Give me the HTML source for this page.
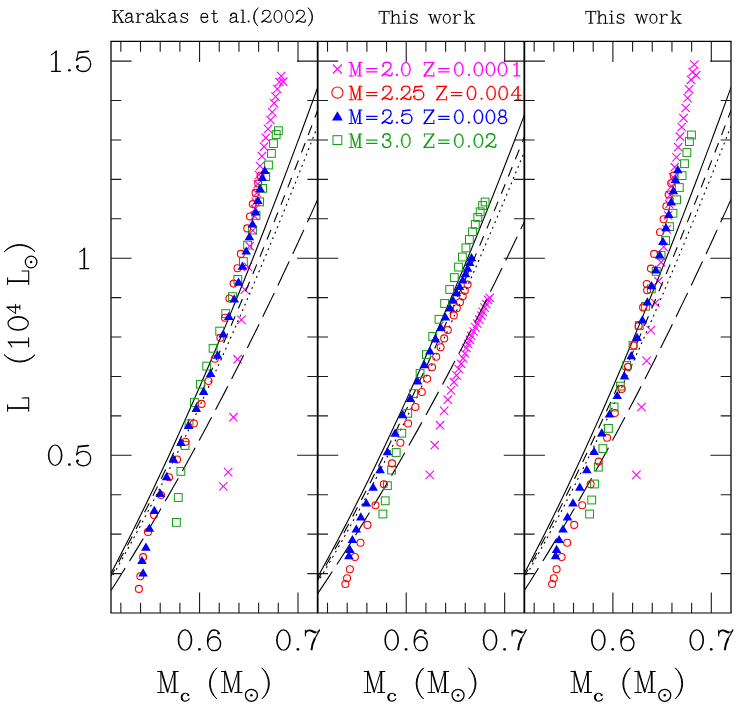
<!DOCTYPE html><html><head><meta charset="utf-8"><title>plot</title>
<style>html,body{margin:0;padding:0;background:#fff}svg{display:block}text{font-family:"Liberation Serif",serif}</style></head><body>
<svg width="746" height="714" viewBox="0 0 746 714">
<rect width="746" height="714" fill="#fff"/>
<defs>
<clipPath id="cp0"><rect x="111.00" y="41.4" width="206.67" height="571.60"/></clipPath>
<clipPath id="cp1"><rect x="317.67" y="41.4" width="206.67" height="571.60"/></clipPath>
<clipPath id="cp2"><rect x="524.33" y="41.4" width="206.67" height="571.60"/></clipPath>
</defs>
<g><path d="M276.9 71.8L285.3 80.2M276.9 80.2L285.3 71.8" stroke="#ff00ff" stroke-width="1.08" fill="none"/><path d="M279.0 77.5L287.4 85.9M279.0 85.9L287.4 77.5" stroke="#ff00ff" stroke-width="1.08" fill="none"/><path d="M275.2 77.8L283.6 86.2M275.2 86.2L283.6 77.8" stroke="#ff00ff" stroke-width="1.08" fill="none"/><path d="M273.1 84.8L281.5 93.2M273.1 93.2L281.5 84.8" stroke="#ff00ff" stroke-width="1.08" fill="none"/><path d="M271.4 92.4L279.8 100.8M271.4 100.8L279.8 92.4" stroke="#ff00ff" stroke-width="1.08" fill="none"/><path d="M269.9 99.1L278.3 107.5M269.9 107.5L278.3 99.1" stroke="#ff00ff" stroke-width="1.08" fill="none"/><path d="M268.1 107.9L276.5 116.3M268.1 116.3L276.5 107.9" stroke="#ff00ff" stroke-width="1.08" fill="none"/><path d="M266.3 115.8L274.7 124.2M266.3 124.2L274.7 115.8" stroke="#ff00ff" stroke-width="1.08" fill="none"/><path d="M263.8 124.7L272.2 133.1M263.8 133.1L272.2 124.7" stroke="#ff00ff" stroke-width="1.08" fill="none"/><path d="M261.6 133.6L270.0 142.0M261.6 142.0L270.0 133.6" stroke="#ff00ff" stroke-width="1.08" fill="none"/><path d="M259.8 142.5L268.2 150.9M259.8 150.9L268.2 142.5" stroke="#ff00ff" stroke-width="1.08" fill="none"/><path d="M257.7 152.0L266.1 160.4M257.7 160.4L266.1 152.0" stroke="#ff00ff" stroke-width="1.08" fill="none"/><path d="M255.9 161.8L264.3 170.2M255.9 170.2L264.3 161.8" stroke="#ff00ff" stroke-width="1.08" fill="none"/><path d="M254.8 170.8L263.2 179.2M254.8 179.2L263.2 170.8" stroke="#ff00ff" stroke-width="1.08" fill="none"/><path d="M253.6 179.8L262.0 188.2M253.6 188.2L262.0 179.8" stroke="#ff00ff" stroke-width="1.08" fill="none"/><path d="M252.6 188.8L261.0 197.2M252.6 197.2L261.0 188.8" stroke="#ff00ff" stroke-width="1.08" fill="none"/><path d="M251.6 197.8L260.0 206.2M251.6 206.2L260.0 197.8" stroke="#ff00ff" stroke-width="1.08" fill="none"/><path d="M250.8 204.8L259.2 213.2M250.8 213.2L259.2 204.8" stroke="#ff00ff" stroke-width="1.08" fill="none"/><path d="M250.4 211.9L258.8 220.3M250.4 220.3L258.8 211.9" stroke="#ff00ff" stroke-width="1.08" fill="none"/><path d="M248.6 226.3L257.0 234.7M248.6 234.7L257.0 226.3" stroke="#ff00ff" stroke-width="1.08" fill="none"/><path d="M245.5 242.0L253.9 250.4M245.5 250.4L253.9 242.0" stroke="#ff00ff" stroke-width="1.08" fill="none"/><path d="M243.8 262.7L252.2 271.1M243.8 271.1L252.2 262.7" stroke="#ff00ff" stroke-width="1.08" fill="none"/><path d="M240.6 285.4L249.0 293.8M240.6 293.8L249.0 285.4" stroke="#ff00ff" stroke-width="1.08" fill="none"/><path d="M237.2 315.7L245.6 324.1M237.2 324.1L245.6 315.7" stroke="#ff00ff" stroke-width="1.08" fill="none"/><path d="M233.4 355.0L241.8 363.4M233.4 363.4L241.8 355.0" stroke="#ff00ff" stroke-width="1.08" fill="none"/><path d="M229.2 413.0L237.6 421.4M229.2 421.4L237.6 413.0" stroke="#ff00ff" stroke-width="1.08" fill="none"/><path d="M224.0 467.9L232.4 476.3M224.0 476.3L232.4 467.9" stroke="#ff00ff" stroke-width="1.08" fill="none"/><path d="M219.1 482.2L227.5 490.6M219.1 490.6L227.5 482.2" stroke="#ff00ff" stroke-width="1.08" fill="none"/></g>
<g><path d="M425.6 470.7L434.0 479.1M425.6 479.1L434.0 470.7" stroke="#ff00ff" stroke-width="1.08" fill="none"/><path d="M430.5 441.0L438.9 449.4M430.5 449.4L438.9 441.0" stroke="#ff00ff" stroke-width="1.08" fill="none"/><path d="M435.9 421.0L444.3 429.4M435.9 429.4L444.3 421.0" stroke="#ff00ff" stroke-width="1.08" fill="none"/><path d="M439.9 406.7L448.3 415.1M439.9 415.1L448.3 406.7" stroke="#ff00ff" stroke-width="1.08" fill="none"/><path d="M443.6 395.5L452.0 403.9M443.6 403.9L452.0 395.5" stroke="#ff00ff" stroke-width="1.08" fill="none"/><path d="M446.8 386.2L455.2 394.6M446.8 394.6L455.2 386.2" stroke="#ff00ff" stroke-width="1.08" fill="none"/><path d="M449.7 378.0L458.1 386.4M449.7 386.4L458.1 378.0" stroke="#ff00ff" stroke-width="1.08" fill="none"/><path d="M452.3 371.1L460.7 379.5M452.3 379.5L460.7 371.1" stroke="#ff00ff" stroke-width="1.08" fill="none"/><path d="M454.6 364.8L463.0 373.2M454.6 373.2L463.0 364.8" stroke="#ff00ff" stroke-width="1.08" fill="none"/><path d="M456.9 359.6L465.3 368.0M456.9 368.0L465.3 359.6" stroke="#ff00ff" stroke-width="1.08" fill="none"/><path d="M459.0 354.1L467.4 362.5M459.0 362.5L467.4 354.1" stroke="#ff00ff" stroke-width="1.08" fill="none"/><path d="M460.7 349.3L469.1 357.7M460.7 357.7L469.1 349.3" stroke="#ff00ff" stroke-width="1.08" fill="none"/><path d="M462.4 343.8L470.8 352.2M462.4 352.2L470.8 343.8" stroke="#ff00ff" stroke-width="1.08" fill="none"/><path d="M464.0 339.8L472.4 348.2M464.0 348.2L472.4 339.8" stroke="#ff00ff" stroke-width="1.08" fill="none"/><path d="M465.7 335.6L474.1 344.0M465.7 344.0L474.1 335.6" stroke="#ff00ff" stroke-width="1.08" fill="none"/><path d="M467.1 331.7L475.5 340.1M467.1 340.1L475.5 331.7" stroke="#ff00ff" stroke-width="1.08" fill="none"/><path d="M469.4 327.3L477.8 335.7M469.4 335.7L477.8 327.3" stroke="#ff00ff" stroke-width="1.08" fill="none"/><path d="M471.2 323.2L479.6 331.6M471.2 331.6L479.6 323.2" stroke="#ff00ff" stroke-width="1.08" fill="none"/><path d="M473.0 319.4L481.4 327.8M473.0 327.8L481.4 319.4" stroke="#ff00ff" stroke-width="1.08" fill="none"/><path d="M475.1 315.5L483.5 323.9M475.1 323.9L483.5 315.5" stroke="#ff00ff" stroke-width="1.08" fill="none"/><path d="M477.1 311.3L485.5 319.7M477.1 319.7L485.5 311.3" stroke="#ff00ff" stroke-width="1.08" fill="none"/><path d="M478.5 307.6L486.9 316.0M478.5 316.0L486.9 307.6" stroke="#ff00ff" stroke-width="1.08" fill="none"/><path d="M480.4 303.4L488.8 311.8M480.4 311.8L488.8 303.4" stroke="#ff00ff" stroke-width="1.08" fill="none"/><path d="M482.1 299.8L490.5 308.2M482.1 308.2L490.5 299.8" stroke="#ff00ff" stroke-width="1.08" fill="none"/><path d="M483.8 295.6L492.2 304.0M483.8 304.0L492.2 295.6" stroke="#ff00ff" stroke-width="1.08" fill="none"/><path d="M485.5 293.6L493.9 302.0M485.5 302.0L493.9 293.6" stroke="#ff00ff" stroke-width="1.08" fill="none"/></g>
<g><path d="M690.1 60.3L698.5 68.7M690.1 68.7L698.5 60.3" stroke="#ff00ff" stroke-width="1.08" fill="none"/><path d="M692.0 71.0L700.4 79.4M692.0 79.4L700.4 71.0" stroke="#ff00ff" stroke-width="1.08" fill="none"/><path d="M688.4 67.8L696.8 76.2M688.4 76.2L696.8 67.8" stroke="#ff00ff" stroke-width="1.08" fill="none"/><path d="M686.8 75.6L695.2 84.0M686.8 84.0L695.2 75.6" stroke="#ff00ff" stroke-width="1.08" fill="none"/><path d="M684.8 85.1L693.2 93.5M684.8 93.5L693.2 85.1" stroke="#ff00ff" stroke-width="1.08" fill="none"/><path d="M683.4 93.9L691.8 102.3M683.4 102.3L691.8 93.9" stroke="#ff00ff" stroke-width="1.08" fill="none"/><path d="M681.5 103.8L689.9 112.2M681.5 112.2L689.9 103.8" stroke="#ff00ff" stroke-width="1.08" fill="none"/><path d="M679.3 114.0L687.7 122.4M679.3 122.4L687.7 114.0" stroke="#ff00ff" stroke-width="1.08" fill="none"/><path d="M677.5 122.8L685.9 131.2M677.5 131.2L685.9 122.8" stroke="#ff00ff" stroke-width="1.08" fill="none"/><path d="M675.8 132.5L684.2 140.9M675.8 140.9L684.2 132.5" stroke="#ff00ff" stroke-width="1.08" fill="none"/><path d="M674.0 143.0L682.4 151.4M674.0 151.4L682.4 143.0" stroke="#ff00ff" stroke-width="1.08" fill="none"/><path d="M672.3 153.2L680.7 161.6M672.3 161.6L680.7 153.2" stroke="#ff00ff" stroke-width="1.08" fill="none"/><path d="M670.5 163.0L678.9 171.4M670.5 171.4L678.9 163.0" stroke="#ff00ff" stroke-width="1.08" fill="none"/><path d="M668.8 172.8L677.2 181.2M668.8 181.2L677.2 172.8" stroke="#ff00ff" stroke-width="1.08" fill="none"/><path d="M667.4 181.9L675.8 190.3M667.4 190.3L675.8 181.9" stroke="#ff00ff" stroke-width="1.08" fill="none"/><path d="M665.9 191.0L674.3 199.4M665.9 199.4L674.3 191.0" stroke="#ff00ff" stroke-width="1.08" fill="none"/><path d="M665.1 200.0L673.5 208.4M665.1 208.4L673.5 200.0" stroke="#ff00ff" stroke-width="1.08" fill="none"/><path d="M663.9 211.2L672.3 219.6M663.9 219.6L672.3 211.2" stroke="#ff00ff" stroke-width="1.08" fill="none"/><path d="M662.5 225.2L670.9 233.6M662.5 233.6L670.9 225.2" stroke="#ff00ff" stroke-width="1.08" fill="none"/><path d="M659.4 242.7L667.8 251.1M659.4 251.1L667.8 242.7" stroke="#ff00ff" stroke-width="1.08" fill="none"/><path d="M656.9 258.1L665.3 266.5M656.9 266.5L665.3 258.1" stroke="#ff00ff" stroke-width="1.08" fill="none"/><path d="M654.1 277.0L662.5 285.4M654.1 285.4L662.5 277.0" stroke="#ff00ff" stroke-width="1.08" fill="none"/><path d="M651.1 298.8L659.5 307.2M651.1 307.2L659.5 298.8" stroke="#ff00ff" stroke-width="1.08" fill="none"/><path d="M646.6 325.9L655.0 334.3M646.6 334.3L655.0 325.9" stroke="#ff00ff" stroke-width="1.08" fill="none"/><path d="M642.4 356.7L650.8 365.1M642.4 365.1L650.8 356.7" stroke="#ff00ff" stroke-width="1.08" fill="none"/><path d="M637.3 402.8L645.7 411.2M637.3 411.2L645.7 402.8" stroke="#ff00ff" stroke-width="1.08" fill="none"/><path d="M632.2 470.7L640.6 479.1M632.2 479.1L640.6 470.7" stroke="#ff00ff" stroke-width="1.08" fill="none"/></g>
<g clip-path="url(#cp0)" fill="none" stroke="#000" stroke-width="1.12">
<path d="M111.00 573.29 L116.17 563.45 L121.33 553.48 L126.50 543.37 L131.67 533.14 L136.83 522.77 L142.00 512.28 L147.17 501.66 L152.33 490.91 L157.50 480.04 L162.67 469.05 L167.83 457.93 L173.00 446.69 L178.17 435.34 L183.33 423.86 L188.50 412.26 L193.67 400.55 L198.83 388.72 L204.00 376.78 L209.17 364.73 L214.33 352.56 L219.50 340.28 L224.67 327.89 L229.84 315.40 L235.00 302.79 L240.17 290.08 L245.34 277.27 L250.50 264.35 L255.67 251.32 L260.84 238.20 L266.00 224.98 L271.17 211.65 L276.34 198.23 L281.50 184.71 L286.67 171.10 L291.84 157.39 L297.00 143.59 L302.17 129.69 L307.34 115.70 L312.50 101.63 L317.67 87.46"/>
<path d="M111.00 576.24 L116.17 566.74 L121.33 557.11 L126.50 547.36 L131.67 537.49 L136.83 527.50 L142.00 517.40 L147.17 507.18 L152.33 496.84 L157.50 486.39 L162.67 475.82 L167.83 465.14 L173.00 454.35 L178.17 443.44 L183.33 432.43 L188.50 421.31 L193.67 410.07 L198.83 398.73 L204.00 387.29 L209.17 375.74 L214.33 364.08 L219.50 352.32 L224.67 340.45 L229.84 328.48 L235.00 316.42 L240.17 304.25 L245.34 291.98 L250.50 279.61 L255.67 267.15 L260.84 254.59 L266.00 241.93 L271.17 229.18 L276.34 216.33 L281.50 203.39 L286.67 190.36 L291.84 177.24 L297.00 164.03 L302.17 150.72 L307.34 137.33 L312.50 123.85 L317.67 110.29" stroke-dasharray="10.3 8.4" stroke-dashoffset="2.64"/>
<path d="M111.00 578.67 L116.17 569.67 L121.33 560.54 L126.50 551.27 L131.67 541.87 L136.83 532.34 L142.00 522.67 L147.17 512.87 L152.33 502.95 L157.50 492.90 L162.67 482.72 L167.83 472.42 L173.00 461.99 L178.17 451.45 L183.33 440.78 L188.50 430.00 L193.67 419.09 L198.83 408.08 L204.00 396.95 L209.17 385.70 L214.33 374.34 L219.50 362.88 L224.67 351.30 L229.84 339.62 L235.00 327.83 L240.17 315.94 L245.34 303.94 L250.50 291.84 L255.67 279.64 L260.84 267.35 L266.00 254.95 L271.17 242.46 L276.34 229.87 L281.50 217.20 L286.67 204.43 L291.84 191.56 L297.00 178.61 L302.17 165.58 L307.34 152.45 L312.50 139.24 L317.67 125.95" stroke-dasharray="1.9 4.1" stroke-dashoffset="1.65"/>
<path d="M111.00 590.54 L116.17 582.43 L121.33 574.24 L126.50 565.96 L131.67 557.59 L136.83 549.14 L142.00 540.60 L147.17 531.98 L152.33 523.27 L157.50 514.48 L162.67 505.60 L167.83 496.64 L173.00 487.59 L178.17 478.45 L183.33 469.23 L188.50 459.92 L193.67 450.53 L198.83 441.05 L204.00 431.49 L209.17 421.84 L214.33 412.11 L219.50 402.29 L224.67 392.38 L229.84 382.39 L235.00 372.31 L240.17 362.15 L245.34 351.90 L250.50 341.57 L255.67 331.15 L260.84 320.64 L266.00 310.05 L271.17 299.38 L276.34 288.61 L281.50 277.77 L286.67 266.83 L291.84 255.82 L297.00 244.71 L302.17 233.52 L307.34 222.25 L312.50 210.89 L317.67 199.44" stroke-dasharray="26.5 8.3" stroke-dashoffset="0.00"/>
</g>
<g clip-path="url(#cp1)" fill="none" stroke="#000" stroke-width="1.12">
<path d="M317.67 577.17 L322.84 567.81 L328.00 558.33 L333.17 548.72 L338.34 538.98 L343.50 529.13 L348.67 519.15 L353.84 509.05 L359.00 498.83 L364.17 488.49 L369.34 478.03 L374.50 467.46 L379.67 456.77 L384.84 445.97 L390.00 435.06 L395.17 424.03 L400.34 412.89 L405.50 401.64 L410.67 390.29 L415.84 378.82 L421.00 367.25 L426.17 355.58 L431.34 343.79 L436.51 331.91 L441.67 319.92 L446.84 307.84 L452.01 295.65 L457.17 283.36 L462.34 270.98 L467.51 258.50 L472.67 245.92 L477.84 233.25 L483.01 220.49 L488.17 207.63 L493.34 194.68 L498.51 181.64 L503.67 168.52 L508.84 155.30 L514.01 142.00 L519.17 128.62 L524.34 115.14"/>
<path d="M317.67 579.98 L322.84 570.94 L328.00 561.78 L333.17 552.51 L338.34 543.12 L343.50 533.62 L348.67 524.01 L353.84 514.29 L359.00 504.46 L364.17 494.52 L369.34 484.47 L374.50 474.32 L379.67 464.05 L384.84 453.68 L390.00 443.21 L395.17 432.63 L400.34 421.95 L405.50 411.17 L410.67 400.28 L415.84 389.29 L421.00 378.21 L426.17 367.02 L431.34 355.74 L436.51 344.36 L441.67 332.88 L446.84 321.31 L452.01 309.64 L457.17 297.88 L462.34 286.03 L467.51 274.08 L472.67 262.04 L477.84 249.92 L483.01 237.70 L488.17 225.39 L493.34 213.00 L498.51 200.52 L503.67 187.96 L508.84 175.31 L514.01 162.57 L519.17 149.75 L524.34 136.85" stroke-dasharray="10.3 8.4" stroke-dashoffset="2.24"/>
<path d="M317.67 582.28 L322.84 573.73 L328.00 565.04 L333.17 556.23 L338.34 547.29 L343.50 538.22 L348.67 529.03 L353.84 519.71 L359.00 510.27 L364.17 500.71 L369.34 491.03 L374.50 481.24 L379.67 471.32 L384.84 461.29 L390.00 451.15 L395.17 440.90 L400.34 430.53 L405.50 420.05 L410.67 409.46 L415.84 398.77 L421.00 387.97 L426.17 377.06 L431.34 366.06 L436.51 354.95 L441.67 343.74 L446.84 332.42 L452.01 321.02 L457.17 309.51 L462.34 297.91 L467.51 286.22 L472.67 274.43 L477.84 262.55 L483.01 250.58 L488.17 238.52 L493.34 226.38 L498.51 214.15 L503.67 201.83 L508.84 189.43 L514.01 176.95 L519.17 164.39 L524.34 151.75" stroke-dasharray="1.9 4.1" stroke-dashoffset="1.19"/>
<path d="M317.67 593.57 L322.84 585.86 L328.00 578.07 L333.17 570.19 L338.34 562.24 L343.50 554.20 L348.67 546.08 L353.84 537.88 L359.00 529.60 L364.17 521.24 L369.34 512.80 L374.50 504.27 L379.67 495.66 L384.84 486.98 L390.00 478.21 L395.17 469.36 L400.34 460.42 L405.50 451.41 L410.67 442.32 L415.84 433.14 L421.00 423.88 L426.17 414.54 L431.34 405.12 L436.51 395.62 L441.67 386.04 L446.84 376.37 L452.01 366.63 L457.17 356.80 L462.34 346.89 L467.51 336.90 L472.67 326.83 L477.84 316.68 L483.01 306.44 L488.17 296.13 L493.34 285.73 L498.51 275.25 L503.67 264.69 L508.84 254.05 L514.01 243.33 L519.17 232.52 L524.34 221.64" stroke-dasharray="26.5 8.3" stroke-dashoffset="0.00"/>
</g>
<g clip-path="url(#cp2)" fill="none" stroke="#000" stroke-width="1.12">
<path d="M524.33 573.29 L529.50 563.45 L534.66 553.48 L539.83 543.37 L545.00 533.14 L550.16 522.77 L555.33 512.28 L560.50 501.66 L565.66 490.91 L570.83 480.04 L576.00 469.05 L581.16 457.93 L586.33 446.69 L591.50 435.34 L596.66 423.86 L601.83 412.26 L607.00 400.55 L612.16 388.72 L617.33 376.78 L622.50 364.73 L627.67 352.56 L632.83 340.28 L638.00 327.89 L643.17 315.40 L648.33 302.79 L653.50 290.08 L658.67 277.27 L663.83 264.35 L669.00 251.32 L674.17 238.20 L679.33 224.98 L684.50 211.65 L689.67 198.23 L694.83 184.71 L700.00 171.10 L705.17 157.39 L710.33 143.59 L715.50 129.69 L720.67 115.70 L725.83 101.63 L731.00 87.46"/>
<path d="M524.33 576.24 L529.50 566.74 L534.66 557.11 L539.83 547.36 L545.00 537.49 L550.16 527.50 L555.33 517.40 L560.50 507.18 L565.66 496.84 L570.83 486.39 L576.00 475.82 L581.16 465.14 L586.33 454.35 L591.50 443.44 L596.66 432.43 L601.83 421.31 L607.00 410.07 L612.16 398.73 L617.33 387.29 L622.50 375.74 L627.67 364.08 L632.83 352.32 L638.00 340.45 L643.17 328.48 L648.33 316.42 L653.50 304.25 L658.67 291.98 L663.83 279.61 L669.00 267.15 L674.17 254.59 L679.33 241.93 L684.50 229.18 L689.67 216.33 L694.83 203.39 L700.00 190.36 L705.17 177.24 L710.33 164.03 L715.50 150.72 L720.67 137.33 L725.83 123.85 L731.00 110.29" stroke-dasharray="10.3 8.4" stroke-dashoffset="2.64"/>
<path d="M524.33 578.67 L529.50 569.67 L534.66 560.54 L539.83 551.27 L545.00 541.87 L550.16 532.34 L555.33 522.67 L560.50 512.87 L565.66 502.95 L570.83 492.90 L576.00 482.72 L581.16 472.42 L586.33 461.99 L591.50 451.45 L596.66 440.78 L601.83 430.00 L607.00 419.09 L612.16 408.08 L617.33 396.95 L622.50 385.70 L627.67 374.34 L632.83 362.88 L638.00 351.30 L643.17 339.62 L648.33 327.83 L653.50 315.94 L658.67 303.94 L663.83 291.84 L669.00 279.64 L674.17 267.35 L679.33 254.95 L684.50 242.46 L689.67 229.87 L694.83 217.20 L700.00 204.43 L705.17 191.56 L710.33 178.61 L715.50 165.58 L720.67 152.45 L725.83 139.24 L731.00 125.95" stroke-dasharray="1.9 4.1" stroke-dashoffset="1.65"/>
<path d="M524.33 590.54 L529.50 582.43 L534.66 574.24 L539.83 565.96 L545.00 557.59 L550.16 549.14 L555.33 540.60 L560.50 531.98 L565.66 523.27 L570.83 514.48 L576.00 505.60 L581.16 496.64 L586.33 487.59 L591.50 478.45 L596.66 469.23 L601.83 459.92 L607.00 450.53 L612.16 441.05 L617.33 431.49 L622.50 421.84 L627.67 412.11 L632.83 402.29 L638.00 392.38 L643.17 382.39 L648.33 372.31 L653.50 362.15 L658.67 351.90 L663.83 341.57 L669.00 331.15 L674.17 320.64 L679.33 310.05 L684.50 299.38 L689.67 288.61 L694.83 277.77 L700.00 266.83 L705.17 255.82 L710.33 244.71 L715.50 233.52 L720.67 222.25 L725.83 210.89 L731.00 199.44" stroke-dasharray="26.5 8.3" stroke-dashoffset="0.00"/>
</g>
<g><rect x="172.5" y="518.5" width="7.8" height="7.8" stroke="#12a012" stroke-width="1.02" fill="none"/><rect x="174.4" y="493.6" width="7.8" height="7.8" stroke="#12a012" stroke-width="1.02" fill="none"/><rect x="177.0" y="467.5" width="7.8" height="7.8" stroke="#12a012" stroke-width="1.02" fill="none"/><rect x="181.2" y="441.6" width="7.8" height="7.8" stroke="#12a012" stroke-width="1.02" fill="none"/><rect x="185.1" y="419.9" width="7.8" height="7.8" stroke="#12a012" stroke-width="1.02" fill="none"/><rect x="190.5" y="398.6" width="7.8" height="7.8" stroke="#12a012" stroke-width="1.02" fill="none"/><rect x="196.5" y="380.4" width="7.8" height="7.8" stroke="#12a012" stroke-width="1.02" fill="none"/><rect x="202.8" y="362.2" width="7.8" height="7.8" stroke="#12a012" stroke-width="1.02" fill="none"/><rect x="209.2" y="344.4" width="7.8" height="7.8" stroke="#12a012" stroke-width="1.02" fill="none"/><rect x="215.8" y="327.2" width="7.8" height="7.8" stroke="#12a012" stroke-width="1.02" fill="none"/><rect x="221.8" y="309.7" width="7.8" height="7.8" stroke="#12a012" stroke-width="1.02" fill="none"/><rect x="228.6" y="292.7" width="7.8" height="7.8" stroke="#12a012" stroke-width="1.02" fill="none"/><rect x="233.9" y="275.5" width="7.8" height="7.8" stroke="#12a012" stroke-width="1.02" fill="none"/><rect x="239.5" y="257.7" width="7.8" height="7.8" stroke="#12a012" stroke-width="1.02" fill="none"/><rect x="243.7" y="241.2" width="7.8" height="7.8" stroke="#12a012" stroke-width="1.02" fill="none"/><rect x="248.6" y="226.2" width="7.8" height="7.8" stroke="#12a012" stroke-width="1.02" fill="none"/><rect x="252.1" y="211.5" width="7.8" height="7.8" stroke="#12a012" stroke-width="1.02" fill="none"/><rect x="255.7" y="198.0" width="7.8" height="7.8" stroke="#12a012" stroke-width="1.02" fill="none"/><rect x="258.7" y="184.5" width="7.8" height="7.8" stroke="#12a012" stroke-width="1.02" fill="none"/><rect x="261.8" y="172.6" width="7.8" height="7.8" stroke="#12a012" stroke-width="1.02" fill="none"/><rect x="264.6" y="161.1" width="7.8" height="7.8" stroke="#12a012" stroke-width="1.02" fill="none"/><rect x="267.5" y="149.5" width="7.8" height="7.8" stroke="#12a012" stroke-width="1.02" fill="none"/><rect x="269.6" y="139.7" width="7.8" height="7.8" stroke="#12a012" stroke-width="1.02" fill="none"/><rect x="272.3" y="130.6" width="7.8" height="7.8" stroke="#12a012" stroke-width="1.02" fill="none"/><rect x="274.5" y="126.8" width="7.8" height="7.8" stroke="#12a012" stroke-width="1.02" fill="none"/></g>
<g><circle cx="138.9" cy="588.9" r="3.5" stroke="#ff0000" stroke-width="1.1" fill="none"/><circle cx="140.3" cy="576.3" r="3.5" stroke="#ff0000" stroke-width="1.1" fill="none"/><circle cx="143.1" cy="557.1" r="3.5" stroke="#ff0000" stroke-width="1.1" fill="none"/><circle cx="148.0" cy="531.9" r="3.5" stroke="#ff0000" stroke-width="1.1" fill="none"/><circle cx="154.0" cy="515.1" r="3.5" stroke="#ff0000" stroke-width="1.1" fill="none"/><circle cx="161.0" cy="495.0" r="3.5" stroke="#ff0000" stroke-width="1.1" fill="none"/><circle cx="169.0" cy="477.3" r="3.5" stroke="#ff0000" stroke-width="1.1" fill="none"/><circle cx="177.1" cy="459.5" r="3.5" stroke="#ff0000" stroke-width="1.1" fill="none"/><circle cx="185.5" cy="441.7" r="3.5" stroke="#ff0000" stroke-width="1.1" fill="none"/><circle cx="193.9" cy="423.5" r="3.5" stroke="#ff0000" stroke-width="1.1" fill="none"/><circle cx="201.6" cy="403.9" r="3.5" stroke="#ff0000" stroke-width="1.1" fill="none"/><circle cx="208.5" cy="381.0" r="3.5" stroke="#ff0000" stroke-width="1.1" fill="none"/><circle cx="214.8" cy="358.8" r="3.5" stroke="#ff0000" stroke-width="1.1" fill="none"/><circle cx="220.4" cy="337.8" r="3.5" stroke="#ff0000" stroke-width="1.1" fill="none"/><circle cx="225.0" cy="317.8" r="3.5" stroke="#ff0000" stroke-width="1.1" fill="none"/><circle cx="229.4" cy="298.5" r="3.5" stroke="#ff0000" stroke-width="1.1" fill="none"/><circle cx="233.6" cy="283.6" r="3.5" stroke="#ff0000" stroke-width="1.1" fill="none"/><circle cx="237.5" cy="268.2" r="3.5" stroke="#ff0000" stroke-width="1.1" fill="none"/><circle cx="240.9" cy="253.9" r="3.5" stroke="#ff0000" stroke-width="1.1" fill="none"/><circle cx="247.2" cy="228.4" r="3.5" stroke="#ff0000" stroke-width="1.1" fill="none"/><circle cx="250.0" cy="216.5" r="3.5" stroke="#ff0000" stroke-width="1.1" fill="none"/><circle cx="252.8" cy="204.1" r="3.5" stroke="#ff0000" stroke-width="1.1" fill="none"/><circle cx="255.6" cy="192.9" r="3.5" stroke="#ff0000" stroke-width="1.1" fill="none"/><circle cx="258.1" cy="183.5" r="3.5" stroke="#ff0000" stroke-width="1.1" fill="none"/><circle cx="260.5" cy="175.8" r="3.5" stroke="#ff0000" stroke-width="1.1" fill="none"/></g>
<g><path d="M143.1 568.2L147.9 576.4L138.3 576.4Z" fill="#0000ff"/><path d="M142.0 555.9L146.8 564.1L137.2 564.1Z" fill="#0000ff"/><path d="M145.9 542.5L150.7 550.7L141.1 550.7Z" fill="#0000ff"/><path d="M149.4 523.5L154.2 531.7L144.6 531.7Z" fill="#0000ff"/><path d="M154.3 505.7L159.1 513.9L149.5 513.9Z" fill="#0000ff"/><path d="M160.3 488.8L165.1 497.0L155.5 497.0Z" fill="#0000ff"/><path d="M166.6 472.0L171.4 480.2L161.8 480.2Z" fill="#0000ff"/><path d="M173.6 454.5L178.4 462.7L168.8 462.7Z" fill="#0000ff"/><path d="M180.9 437.7L185.7 445.9L176.1 445.9Z" fill="#0000ff"/><path d="M188.6 420.9L193.4 429.1L183.8 429.1Z" fill="#0000ff"/><path d="M196.3 403.8L201.1 412.0L191.5 412.0Z" fill="#0000ff"/><path d="M203.6 386.7L208.4 394.9L198.8 394.9Z" fill="#0000ff"/><path d="M210.6 368.8L215.4 377.0L205.8 377.0Z" fill="#0000ff"/><path d="M217.6 350.6L222.4 358.8L212.8 358.8Z" fill="#0000ff"/><path d="M223.2 329.3L228.0 337.5L218.4 337.5Z" fill="#0000ff"/><path d="M228.8 311.8L233.6 320.0L224.0 320.0Z" fill="#0000ff"/><path d="M234.2 294.2L239.0 302.4L229.4 302.4Z" fill="#0000ff"/><path d="M238.5 277.6L243.3 285.8L233.7 285.8Z" fill="#0000ff"/><path d="M242.4 261.5L247.2 269.7L237.6 269.7Z" fill="#0000ff"/><path d="M246.2 246.4L251.0 254.6L241.4 254.6Z" fill="#0000ff"/><path d="M249.4 232.1L254.2 240.3L244.6 240.3Z" fill="#0000ff"/><path d="M252.5 219.2L257.3 227.4L247.7 227.4Z" fill="#0000ff"/><path d="M255.6 207.3L260.4 215.5L250.8 215.5Z" fill="#0000ff"/><path d="M257.9 195.9L262.7 204.1L253.1 204.1Z" fill="#0000ff"/><path d="M260.1 184.1L264.9 192.3L255.3 192.3Z" fill="#0000ff"/><path d="M262.3 172.9L267.1 181.1L257.5 181.1Z" fill="#0000ff"/><path d="M264.7 165.9L269.5 174.1L259.9 174.1Z" fill="#0000ff"/></g>
<g><rect x="379.0" y="510.1" width="7.8" height="7.8" stroke="#12a012" stroke-width="1.02" fill="none"/><rect x="381.3" y="496.9" width="7.8" height="7.8" stroke="#12a012" stroke-width="1.02" fill="none"/><rect x="383.5" y="481.8" width="7.8" height="7.8" stroke="#12a012" stroke-width="1.02" fill="none"/><rect x="387.7" y="466.1" width="7.8" height="7.8" stroke="#12a012" stroke-width="1.02" fill="none"/><rect x="392.3" y="448.6" width="7.8" height="7.8" stroke="#12a012" stroke-width="1.02" fill="none"/><rect x="397.9" y="429.3" width="7.8" height="7.8" stroke="#12a012" stroke-width="1.02" fill="none"/><rect x="403.8" y="409.4" width="7.8" height="7.8" stroke="#12a012" stroke-width="1.02" fill="none"/><rect x="409.6" y="389.7" width="7.8" height="7.8" stroke="#12a012" stroke-width="1.02" fill="none"/><rect x="416.2" y="369.6" width="7.8" height="7.8" stroke="#12a012" stroke-width="1.02" fill="none"/><rect x="422.5" y="350.7" width="7.8" height="7.8" stroke="#12a012" stroke-width="1.02" fill="none"/><rect x="428.8" y="332.5" width="7.8" height="7.8" stroke="#12a012" stroke-width="1.02" fill="none"/><rect x="435.1" y="315.4" width="7.8" height="7.8" stroke="#12a012" stroke-width="1.02" fill="none"/><rect x="440.7" y="299.6" width="7.8" height="7.8" stroke="#12a012" stroke-width="1.02" fill="none"/><rect x="445.8" y="285.6" width="7.8" height="7.8" stroke="#12a012" stroke-width="1.02" fill="none"/><rect x="450.4" y="273.7" width="7.8" height="7.8" stroke="#12a012" stroke-width="1.02" fill="none"/><rect x="454.6" y="263.2" width="7.8" height="7.8" stroke="#12a012" stroke-width="1.02" fill="none"/><rect x="458.5" y="253.1" width="7.8" height="7.8" stroke="#12a012" stroke-width="1.02" fill="none"/><rect x="462.0" y="244.0" width="7.8" height="7.8" stroke="#12a012" stroke-width="1.02" fill="none"/><rect x="465.5" y="235.6" width="7.8" height="7.8" stroke="#12a012" stroke-width="1.02" fill="none"/><rect x="468.6" y="227.8" width="7.8" height="7.8" stroke="#12a012" stroke-width="1.02" fill="none"/><rect x="471.4" y="220.5" width="7.8" height="7.8" stroke="#12a012" stroke-width="1.02" fill="none"/><rect x="473.9" y="213.5" width="7.8" height="7.8" stroke="#12a012" stroke-width="1.02" fill="none"/><rect x="476.3" y="207.9" width="7.8" height="7.8" stroke="#12a012" stroke-width="1.02" fill="none"/><rect x="478.7" y="201.6" width="7.8" height="7.8" stroke="#12a012" stroke-width="1.02" fill="none"/><rect x="481.2" y="198.1" width="7.8" height="7.8" stroke="#12a012" stroke-width="1.02" fill="none"/></g>
<g><circle cx="345.4" cy="584.0" r="3.5" stroke="#ff0000" stroke-width="1.1" fill="none"/><circle cx="347.1" cy="578.2" r="3.5" stroke="#ff0000" stroke-width="1.1" fill="none"/><circle cx="349.9" cy="569.3" r="3.5" stroke="#ff0000" stroke-width="1.1" fill="none"/><circle cx="354.9" cy="557.0" r="3.5" stroke="#ff0000" stroke-width="1.1" fill="none"/><circle cx="360.5" cy="542.7" r="3.5" stroke="#ff0000" stroke-width="1.1" fill="none"/><circle cx="367.5" cy="524.9" r="3.5" stroke="#ff0000" stroke-width="1.1" fill="none"/><circle cx="375.5" cy="505.3" r="3.5" stroke="#ff0000" stroke-width="1.1" fill="none"/><circle cx="383.9" cy="484.3" r="3.5" stroke="#ff0000" stroke-width="1.1" fill="none"/><circle cx="392.0" cy="463.4" r="3.5" stroke="#ff0000" stroke-width="1.1" fill="none"/><circle cx="400.4" cy="442.7" r="3.5" stroke="#ff0000" stroke-width="1.1" fill="none"/><circle cx="408.1" cy="423.5" r="3.5" stroke="#ff0000" stroke-width="1.1" fill="none"/><circle cx="415.4" cy="407.0" r="3.5" stroke="#ff0000" stroke-width="1.1" fill="none"/><circle cx="421.8" cy="392.0" r="3.5" stroke="#ff0000" stroke-width="1.1" fill="none"/><circle cx="427.1" cy="378.7" r="3.5" stroke="#ff0000" stroke-width="1.1" fill="none"/><circle cx="432.0" cy="367.2" r="3.5" stroke="#ff0000" stroke-width="1.1" fill="none"/><circle cx="436.2" cy="356.7" r="3.5" stroke="#ff0000" stroke-width="1.1" fill="none"/><circle cx="440.6" cy="347.2" r="3.5" stroke="#ff0000" stroke-width="1.1" fill="none"/><circle cx="444.2" cy="338.4" r="3.5" stroke="#ff0000" stroke-width="1.1" fill="none"/><circle cx="447.8" cy="330.0" r="3.5" stroke="#ff0000" stroke-width="1.1" fill="none"/><circle cx="453.8" cy="315.4" r="3.5" stroke="#ff0000" stroke-width="1.1" fill="none"/><circle cx="456.8" cy="308.2" r="3.5" stroke="#ff0000" stroke-width="1.1" fill="none"/><circle cx="460.0" cy="302.3" r="3.5" stroke="#ff0000" stroke-width="1.1" fill="none"/><circle cx="462.7" cy="296.3" r="3.5" stroke="#ff0000" stroke-width="1.1" fill="none"/><circle cx="464.8" cy="290.6" r="3.5" stroke="#ff0000" stroke-width="1.1" fill="none"/><circle cx="467.6" cy="284.6" r="3.5" stroke="#ff0000" stroke-width="1.1" fill="none"/></g>
<g><path d="M348.9 551.0L353.7 559.2L344.1 559.2Z" fill="#0000ff"/><path d="M349.9 544.7L354.7 552.9L345.1 552.9Z" fill="#0000ff"/><path d="M352.4 534.9L357.2 543.1L347.6 543.1Z" fill="#0000ff"/><path d="M356.3 524.4L361.1 532.6L351.5 532.6Z" fill="#0000ff"/><path d="M360.8 512.2L365.6 520.4L356.0 520.4Z" fill="#0000ff"/><path d="M366.3 498.2L371.1 506.4L361.5 506.4Z" fill="#0000ff"/><path d="M373.1 482.5L377.9 490.7L368.3 490.7Z" fill="#0000ff"/><path d="M380.1 465.0L384.9 473.2L375.3 473.2Z" fill="#0000ff"/><path d="M387.5 447.1L392.3 455.3L382.7 455.3Z" fill="#0000ff"/><path d="M395.1 428.6L399.9 436.8L390.3 436.8Z" fill="#0000ff"/><path d="M402.5 410.1L407.3 418.3L397.7 418.3Z" fill="#0000ff"/><path d="M410.4 393.7L415.2 401.9L405.6 401.9Z" fill="#0000ff"/><path d="M417.6 376.2L422.4 384.4L412.8 384.4Z" fill="#0000ff"/><path d="M424.3 360.1L429.1 368.3L419.5 368.3Z" fill="#0000ff"/><path d="M429.9 346.4L434.7 354.6L425.1 354.6Z" fill="#0000ff"/><path d="M435.5 334.2L440.3 342.4L430.7 342.4Z" fill="#0000ff"/><path d="M440.8 322.9L445.6 331.1L436.0 331.1Z" fill="#0000ff"/><path d="M445.4 312.4L450.2 320.6L440.6 320.6Z" fill="#0000ff"/><path d="M449.9 303.2L454.7 311.4L445.1 311.4Z" fill="#0000ff"/><path d="M453.0 295.6L457.8 303.8L448.2 303.8Z" fill="#0000ff"/><path d="M456.4 288.1L461.2 296.3L451.6 296.3Z" fill="#0000ff"/><path d="M459.5 281.7L464.3 289.9L454.7 289.9Z" fill="#0000ff"/><path d="M462.7 275.4L467.5 283.6L457.9 283.6Z" fill="#0000ff"/><path d="M465.5 269.1L470.3 277.3L460.7 277.3Z" fill="#0000ff"/><path d="M467.6 263.5L472.4 271.7L462.8 271.7Z" fill="#0000ff"/><path d="M469.7 257.9L474.5 266.1L464.9 266.1Z" fill="#0000ff"/><path d="M471.5 253.0L476.3 261.2L466.7 261.2Z" fill="#0000ff"/></g>
<g><rect x="585.7" y="510.1" width="7.8" height="7.8" stroke="#12a012" stroke-width="1.02" fill="none"/><rect x="587.8" y="496.1" width="7.8" height="7.8" stroke="#12a012" stroke-width="1.02" fill="none"/><rect x="590.6" y="480.1" width="7.8" height="7.8" stroke="#12a012" stroke-width="1.02" fill="none"/><rect x="594.4" y="463.3" width="7.8" height="7.8" stroke="#12a012" stroke-width="1.02" fill="none"/><rect x="599.0" y="444.7" width="7.8" height="7.8" stroke="#12a012" stroke-width="1.02" fill="none"/><rect x="604.5" y="424.5" width="7.8" height="7.8" stroke="#12a012" stroke-width="1.02" fill="none"/><rect x="610.2" y="403.1" width="7.8" height="7.8" stroke="#12a012" stroke-width="1.02" fill="none"/><rect x="616.5" y="382.2" width="7.8" height="7.8" stroke="#12a012" stroke-width="1.02" fill="none"/><rect x="622.8" y="361.6" width="7.8" height="7.8" stroke="#12a012" stroke-width="1.02" fill="none"/><rect x="629.1" y="341.6" width="7.8" height="7.8" stroke="#12a012" stroke-width="1.02" fill="none"/><rect x="635.4" y="321.6" width="7.8" height="7.8" stroke="#12a012" stroke-width="1.02" fill="none"/><rect x="641.6" y="302.4" width="7.8" height="7.8" stroke="#12a012" stroke-width="1.02" fill="none"/><rect x="647.4" y="285.0" width="7.8" height="7.8" stroke="#12a012" stroke-width="1.02" fill="none"/><rect x="652.3" y="267.5" width="7.8" height="7.8" stroke="#12a012" stroke-width="1.02" fill="none"/><rect x="657.2" y="251.4" width="7.8" height="7.8" stroke="#12a012" stroke-width="1.02" fill="none"/><rect x="661.7" y="236.7" width="7.8" height="7.8" stroke="#12a012" stroke-width="1.02" fill="none"/><rect x="665.6" y="222.7" width="7.8" height="7.8" stroke="#12a012" stroke-width="1.02" fill="none"/><rect x="669.1" y="209.4" width="7.8" height="7.8" stroke="#12a012" stroke-width="1.02" fill="none"/><rect x="672.7" y="195.9" width="7.8" height="7.8" stroke="#12a012" stroke-width="1.02" fill="none"/><rect x="675.4" y="183.6" width="7.8" height="7.8" stroke="#12a012" stroke-width="1.02" fill="none"/><rect x="678.2" y="171.7" width="7.8" height="7.8" stroke="#12a012" stroke-width="1.02" fill="none"/><rect x="680.6" y="159.8" width="7.8" height="7.8" stroke="#12a012" stroke-width="1.02" fill="none"/><rect x="683.0" y="148.6" width="7.8" height="7.8" stroke="#12a012" stroke-width="1.02" fill="none"/><rect x="685.5" y="137.7" width="7.8" height="7.8" stroke="#12a012" stroke-width="1.02" fill="none"/><rect x="687.6" y="131.1" width="7.8" height="7.8" stroke="#12a012" stroke-width="1.02" fill="none"/></g>
<g><circle cx="552.1" cy="584.0" r="3.5" stroke="#ff0000" stroke-width="1.1" fill="none"/><circle cx="553.8" cy="578.2" r="3.5" stroke="#ff0000" stroke-width="1.1" fill="none"/><circle cx="556.6" cy="569.3" r="3.5" stroke="#ff0000" stroke-width="1.1" fill="none"/><circle cx="561.6" cy="557.0" r="3.5" stroke="#ff0000" stroke-width="1.1" fill="none"/><circle cx="567.2" cy="542.7" r="3.5" stroke="#ff0000" stroke-width="1.1" fill="none"/><circle cx="574.2" cy="524.9" r="3.5" stroke="#ff0000" stroke-width="1.1" fill="none"/><circle cx="582.2" cy="505.3" r="3.5" stroke="#ff0000" stroke-width="1.1" fill="none"/><circle cx="590.6" cy="484.3" r="3.5" stroke="#ff0000" stroke-width="1.1" fill="none"/><circle cx="598.7" cy="461.6" r="3.5" stroke="#ff0000" stroke-width="1.1" fill="none"/><circle cx="607.1" cy="437.8" r="3.5" stroke="#ff0000" stroke-width="1.1" fill="none"/><circle cx="614.8" cy="413.0" r="3.5" stroke="#ff0000" stroke-width="1.1" fill="none"/><circle cx="621.7" cy="388.9" r="3.5" stroke="#ff0000" stroke-width="1.1" fill="none"/><circle cx="628.0" cy="366.9" r="3.5" stroke="#ff0000" stroke-width="1.1" fill="none"/><circle cx="633.7" cy="345.5" r="3.5" stroke="#ff0000" stroke-width="1.1" fill="none"/><circle cx="638.6" cy="325.9" r="3.5" stroke="#ff0000" stroke-width="1.1" fill="none"/><circle cx="643.1" cy="307.4" r="3.5" stroke="#ff0000" stroke-width="1.1" fill="none"/><circle cx="647.1" cy="290.3" r="3.5" stroke="#ff0000" stroke-width="1.1" fill="none"/><circle cx="646.8" cy="284.0" r="3.5" stroke="#ff0000" stroke-width="1.1" fill="none"/><circle cx="650.9" cy="268.6" r="3.5" stroke="#ff0000" stroke-width="1.1" fill="none"/><circle cx="654.1" cy="253.9" r="3.5" stroke="#ff0000" stroke-width="1.1" fill="none"/><circle cx="660.0" cy="232.2" r="3.5" stroke="#ff0000" stroke-width="1.1" fill="none"/><circle cx="663.6" cy="219.3" r="3.5" stroke="#ff0000" stroke-width="1.1" fill="none"/><circle cx="666.4" cy="206.3" r="3.5" stroke="#ff0000" stroke-width="1.1" fill="none"/><circle cx="668.7" cy="194.5" r="3.5" stroke="#ff0000" stroke-width="1.1" fill="none"/><circle cx="671.2" cy="183.3" r="3.5" stroke="#ff0000" stroke-width="1.1" fill="none"/><circle cx="673.7" cy="175.6" r="3.5" stroke="#ff0000" stroke-width="1.1" fill="none"/></g>
<g><path d="M555.6 551.0L560.4 559.2L550.8 559.2Z" fill="#0000ff"/><path d="M556.6 544.7L561.4 552.9L551.8 552.9Z" fill="#0000ff"/><path d="M559.1 534.9L563.9 543.1L554.3 543.1Z" fill="#0000ff"/><path d="M563.0 524.4L567.8 532.6L558.2 532.6Z" fill="#0000ff"/><path d="M567.5 512.2L572.3 520.4L562.7 520.4Z" fill="#0000ff"/><path d="M573.0 498.2L577.8 506.4L568.2 506.4Z" fill="#0000ff"/><path d="M579.8 482.5L584.6 490.7L575.0 490.7Z" fill="#0000ff"/><path d="M586.8 465.0L591.6 473.2L582.0 473.2Z" fill="#0000ff"/><path d="M594.1 446.8L598.9 455.0L589.3 455.0Z" fill="#0000ff"/><path d="M601.8 428.2L606.6 436.4L597.0 436.4Z" fill="#0000ff"/><path d="M609.5 409.4L614.3 417.6L604.7 417.6Z" fill="#0000ff"/><path d="M617.2 390.9L622.0 399.1L612.4 399.1Z" fill="#0000ff"/><path d="M624.5 371.3L629.3 379.5L619.7 379.5Z" fill="#0000ff"/><path d="M631.2 351.0L636.0 359.2L626.4 359.2Z" fill="#0000ff"/><path d="M637.1 332.8L641.9 341.0L632.3 341.0Z" fill="#0000ff"/><path d="M642.4 315.3L647.2 323.5L637.6 323.5Z" fill="#0000ff"/><path d="M647.4 297.2L652.2 305.4L642.6 305.4Z" fill="#0000ff"/><path d="M651.6 281.1L656.4 289.3L646.8 289.3Z" fill="#0000ff"/><path d="M655.9 265.3L660.7 273.5L651.1 273.5Z" fill="#0000ff"/><path d="M659.7 250.3L664.5 258.5L654.9 258.5Z" fill="#0000ff"/><path d="M662.9 236.7L667.7 244.9L658.1 244.9Z" fill="#0000ff"/><path d="M666.0 223.0L670.8 231.2L661.2 231.2Z" fill="#0000ff"/><path d="M668.8 209.7L673.6 217.9L664.0 217.9Z" fill="#0000ff"/><path d="M671.2 197.2L676.0 205.4L666.4 205.4Z" fill="#0000ff"/><path d="M673.3 186.0L678.1 194.2L668.5 194.2Z" fill="#0000ff"/><path d="M675.4 174.8L680.2 183.0L670.6 183.0Z" fill="#0000ff"/><path d="M677.8 165.0L682.6 173.2L673.0 173.2Z" fill="#0000ff"/></g>
<g stroke="#000" fill="none" stroke-linecap="butt">
<path d="M110.4 41.4H731.6M110.4 613.0H731.6" stroke-width="1.2"/>
<path d="M111.00 41.4V613.0M731.00 41.4V613.0" stroke-width="1.35" stroke="#111"/>
<path d="M317.67 41.4V613.0M524.33 41.4V613.0" stroke-width="1.8"/>
</g>
<g stroke="#1a1a1a" stroke-width="1.1" fill="none">
<path d="M120.84 613.0v-10.3M120.84 41.4v10.3"/>
<path d="M140.52 613.0v-10.3M140.52 41.4v10.3"/>
<path d="M160.21 613.0v-10.3M160.21 41.4v10.3"/>
<path d="M179.89 613.0v-10.3M179.89 41.4v10.3"/>
<path d="M199.57 613.0v-20.6M199.57 41.4v20.6"/>
<path d="M219.26 613.0v-10.3M219.26 41.4v10.3"/>
<path d="M238.94 613.0v-10.3M238.94 41.4v10.3"/>
<path d="M258.62 613.0v-10.3M258.62 41.4v10.3"/>
<path d="M278.30 613.0v-10.3M278.30 41.4v10.3"/>
<path d="M297.99 613.0v-20.6M297.99 41.4v20.6"/>
<path d="M327.51 613.0v-10.3M327.51 41.4v10.3"/>
<path d="M347.19 613.0v-10.3M347.19 41.4v10.3"/>
<path d="M366.88 613.0v-10.3M366.88 41.4v10.3"/>
<path d="M386.56 613.0v-10.3M386.56 41.4v10.3"/>
<path d="M406.24 613.0v-20.6M406.24 41.4v20.6"/>
<path d="M425.93 613.0v-10.3M425.93 41.4v10.3"/>
<path d="M445.61 613.0v-10.3M445.61 41.4v10.3"/>
<path d="M465.29 613.0v-10.3M465.29 41.4v10.3"/>
<path d="M484.97 613.0v-10.3M484.97 41.4v10.3"/>
<path d="M504.66 613.0v-20.6M504.66 41.4v20.6"/>
<path d="M534.17 613.0v-10.3M534.17 41.4v10.3"/>
<path d="M553.85 613.0v-10.3M553.85 41.4v10.3"/>
<path d="M573.54 613.0v-10.3M573.54 41.4v10.3"/>
<path d="M593.22 613.0v-10.3M593.22 41.4v10.3"/>
<path d="M612.90 613.0v-20.6M612.90 41.4v20.6"/>
<path d="M632.59 613.0v-10.3M632.59 41.4v10.3"/>
<path d="M652.27 613.0v-10.3M652.27 41.4v10.3"/>
<path d="M671.95 613.0v-10.3M671.95 41.4v10.3"/>
<path d="M691.63 613.0v-10.3M691.63 41.4v10.3"/>
<path d="M711.32 613.0v-20.6M711.32 41.4v20.6"/>
<path d="M111.00 573.58h10.3M317.67 573.58h-10.3"/>
<path d="M111.00 534.16h10.3M317.67 534.16h-10.3"/>
<path d="M111.00 494.74h10.3M317.67 494.74h-10.3"/>
<path d="M111.00 455.32h20.6M317.67 455.32h-20.6"/>
<path d="M111.00 415.90h10.3M317.67 415.90h-10.3"/>
<path d="M111.00 376.48h10.3M317.67 376.48h-10.3"/>
<path d="M111.00 337.06h10.3M317.67 337.06h-10.3"/>
<path d="M111.00 297.63h10.3M317.67 297.63h-10.3"/>
<path d="M111.00 258.21h20.6M317.67 258.21h-20.6"/>
<path d="M111.00 218.79h10.3M317.67 218.79h-10.3"/>
<path d="M111.00 179.37h10.3M317.67 179.37h-10.3"/>
<path d="M111.00 139.95h10.3M317.67 139.95h-10.3"/>
<path d="M111.00 100.53h10.3M317.67 100.53h-10.3"/>
<path d="M111.00 61.11h20.6M317.67 61.11h-20.6"/>
<path d="M317.67 573.58h10.3M524.34 573.58h-10.3"/>
<path d="M317.67 534.16h10.3M524.34 534.16h-10.3"/>
<path d="M317.67 494.74h10.3M524.34 494.74h-10.3"/>
<path d="M317.67 455.32h20.6M524.34 455.32h-20.6"/>
<path d="M317.67 415.90h10.3M524.34 415.90h-10.3"/>
<path d="M317.67 376.48h10.3M524.34 376.48h-10.3"/>
<path d="M317.67 337.06h10.3M524.34 337.06h-10.3"/>
<path d="M317.67 297.63h10.3M524.34 297.63h-10.3"/>
<path d="M317.67 258.21h20.6M524.34 258.21h-20.6"/>
<path d="M317.67 218.79h10.3M524.34 218.79h-10.3"/>
<path d="M317.67 179.37h10.3M524.34 179.37h-10.3"/>
<path d="M317.67 139.95h10.3M524.34 139.95h-10.3"/>
<path d="M317.67 100.53h10.3M524.34 100.53h-10.3"/>
<path d="M317.67 61.11h20.6M524.34 61.11h-20.6"/>
<path d="M524.33 573.58h10.3M731.00 573.58h-10.3"/>
<path d="M524.33 534.16h10.3M731.00 534.16h-10.3"/>
<path d="M524.33 494.74h10.3M731.00 494.74h-10.3"/>
<path d="M524.33 455.32h20.6M731.00 455.32h-20.6"/>
<path d="M524.33 415.90h10.3M731.00 415.90h-10.3"/>
<path d="M524.33 376.48h10.3M731.00 376.48h-10.3"/>
<path d="M524.33 337.06h10.3M731.00 337.06h-10.3"/>
<path d="M524.33 297.63h10.3M731.00 297.63h-10.3"/>
<path d="M524.33 258.21h20.6M731.00 258.21h-20.6"/>
<path d="M524.33 218.79h10.3M731.00 218.79h-10.3"/>
<path d="M524.33 179.37h10.3M731.00 179.37h-10.3"/>
<path d="M524.33 139.95h10.3M731.00 139.95h-10.3"/>
<path d="M524.33 100.53h10.3M731.00 100.53h-10.3"/>
<path d="M524.33 61.11h20.6M731.00 61.11h-20.6"/>
</g>
<g fill="none" stroke="#000" color="#000" stroke-linecap="round" stroke-linejoin="round"><g transform="translate(112.30 22.40)"><path d="M2.5 -11.9V0" stroke-width="1.40" stroke-linecap="butt"/><path d="M0 -11.9H5.1M0 0H5.1M7.8 -11.9H11.4M7.8 0H11.6" stroke-width="0.84" /><path d="M2.5 -4.9L10.2 -11.9" stroke-width="0.84" /><path d="M5.6 -7.8L10.0 0" stroke-width="1.40" /></g><g transform="translate(124.90 22.40)"><path d="M1.2 -6.9C1.6 -8.5 3 -9.2 4.3 -9.2C6 -9.2 6.9 -8.2 6.9 -6.7V-1.6C6.9 -0.5 7.6 0.1 8.9 -0.5" stroke-width="1.16" /><path d="M6.9 -5.4C4.5 -5.2 2.6 -4.7 1.3 -3.8C0.2 -3 0.2 -1.2 1.2 -0.4C2.4 0.5 5 0.1 6.9 -2.0" stroke-width="1.07" /><circle cx="1.5" cy="-6.9" r="0.9" fill="currentColor" stroke="none"/></g><g transform="translate(136.10 22.40)"><path d="M1.9 -9V0" stroke-width="1.30" stroke-linecap="butt"/><path d="M0 -9H1.9M0 0H4.1" stroke-width="0.84" /><path d="M1.9 -5.8C2.8 -7.8 4.6 -9.1 6.6 -9.1" stroke-width="0.98" /><circle cx="7.3" cy="-8.2" r="0.95" fill="currentColor" stroke="none"/></g><g transform="translate(145.90 22.40)"><path d="M1.2 -6.9C1.6 -8.5 3 -9.2 4.3 -9.2C6 -9.2 6.9 -8.2 6.9 -6.7V-1.6C6.9 -0.5 7.6 0.1 8.9 -0.5" stroke-width="1.16" /><path d="M6.9 -5.4C4.5 -5.2 2.6 -4.7 1.3 -3.8C0.2 -3 0.2 -1.2 1.2 -0.4C2.4 0.5 5 0.1 6.9 -2.0" stroke-width="1.07" /><circle cx="1.5" cy="-6.9" r="0.9" fill="currentColor" stroke="none"/></g><g transform="translate(155.30 22.40)"><path d="M2.1 -12.3V0" stroke-width="1.30" stroke-linecap="butt"/><path d="M0 -12.3H2.1M0 0H4.7M6.3 -8.9H10.2M6.6 0H10.6" stroke-width="0.84" /><path d="M2.1 -3.6L8.7 -8.9" stroke-width="0.84" /><path d="M4.9 -5.9L8.8 0" stroke-width="1.30" /></g><g transform="translate(168.10 22.40)"><path d="M1.2 -6.9C1.6 -8.5 3 -9.2 4.3 -9.2C6 -9.2 6.9 -8.2 6.9 -6.7V-1.6C6.9 -0.5 7.6 0.1 8.9 -0.5" stroke-width="1.16" /><path d="M6.9 -5.4C4.5 -5.2 2.6 -4.7 1.3 -3.8C0.2 -3 0.2 -1.2 1.2 -0.4C2.4 0.5 5 0.1 6.9 -2.0" stroke-width="1.07" /><circle cx="1.5" cy="-6.9" r="0.9" fill="currentColor" stroke="none"/></g><g transform="translate(180.20 22.40)"><path d="M7.3 -6.7V-9.2M0.7 -2.7V0.1" stroke-width="0.74" /><path d="M7.2 -7.5C6.6 -8.7 5.4 -9.2 4.1 -9.2C2.3 -9.2 0.9 -8.3 0.9 -6.9C0.9 -5.5 2.2 -5.0 4.1 -4.6C6.2 -4.1 7.5 -3.6 7.5 -2.3C7.5 -0.8 6.0 0.1 4.1 0.1C2.6 0.1 1.4 -0.5 0.8 -1.8" stroke-width="1.07" /></g><g transform="translate(200.30 22.40)"><path d="M0.8 -5.0H7.4C7.4 -7.6 6.2 -9.2 4.1 -9.2C2.0 -9.2 0.6 -7.3 0.6 -4.6C0.6 -1.8 2.1 0.1 4.3 0.1C5.8 0.1 6.9 -0.7 7.5 -2.2" stroke-width="1.07" /></g><g transform="translate(213.90 22.40)"><path d="M0 -12.0V-2C0 -0.6 0.7 0.1 1.8 0.1C2.8 0.1 3.5 -0.6 3.8 -1.6" stroke-width="1.21" /><path d="M-2.3 -8.9H2.8" stroke-width="0.84" /></g><g transform="translate(229.50 22.40)"><path d="M1.2 -6.9C1.6 -8.5 3 -9.2 4.3 -9.2C6 -9.2 6.9 -8.2 6.9 -6.7V-1.6C6.9 -0.5 7.6 0.1 8.9 -0.5" stroke-width="1.16" /><path d="M6.9 -5.4C4.5 -5.2 2.6 -4.7 1.3 -3.8C0.2 -3 0.2 -1.2 1.2 -0.4C2.4 0.5 5 0.1 6.9 -2.0" stroke-width="1.07" /><circle cx="1.5" cy="-6.9" r="0.9" fill="currentColor" stroke="none"/></g><g transform="translate(241.00 22.40)"><path d="M2.0 -12.3V0" stroke-width="1.30" stroke-linecap="butt"/><path d="M0 -12.3H2.0M0 0H4.4" stroke-width="0.84" /></g><g transform="translate(248.60 22.40)"><circle cx="0" cy="-0.85" r="1.0" fill="currentColor" stroke="none"/></g><g transform="translate(253.50 22.40)"><path d="M4.5 -14.5A11.45 11.45 0 0 0 4.5 3.7A12.6 12.6 0 0 1 4.5 -14.5Z" fill="currentColor" stroke-width="0.70"/></g><g transform="translate(261.60 22.40)"><path d="M0.9 -9.0C0.9 -10.9 2.6 -12.1 4.7 -12.1C7.1 -12.1 8.6 -10.9 8.6 -9.0C8.6 -7.2 7.2 -5.8 4.8 -4.0C2.9 -2.6 1.2 -1.3 0.3 0" stroke-width="1.02" /><path d="M0.3 -0.6C1.8 -1.8 3.2 -1.7 4.8 -0.9C6.6 0 8.2 0.2 9.3 -0.7L9.6 -2.6" stroke-width="1.12" /><circle cx="1.2" cy="-8.7" r="0.9" fill="currentColor" stroke="none"/></g><g transform="translate(273.50 22.40)"><path d="M0.00 -5.95A4.5 6.45 0 1 0 9.00 -5.95A4.5 6.45 0 1 0 0.00 -5.95ZM1.10 -5.95A3.4 5.6 0 1 0 7.90 -5.95A3.4 5.6 0 1 0 1.10 -5.95Z" fill="currentColor" fill-rule="evenodd" stroke="currentColor" stroke-width="0.00"/></g><g transform="translate(284.70 22.40)"><path d="M0.00 -5.95A4.5 6.45 0 1 0 9.00 -5.95A4.5 6.45 0 1 0 0.00 -5.95ZM1.10 -5.95A3.4 5.6 0 1 0 7.90 -5.95A3.4 5.6 0 1 0 1.10 -5.95Z" fill="currentColor" fill-rule="evenodd" stroke="currentColor" stroke-width="0.00"/></g><g transform="translate(295.80 22.40)"><path d="M0.9 -9.0C0.9 -10.9 2.6 -12.1 4.7 -12.1C7.1 -12.1 8.6 -10.9 8.6 -9.0C8.6 -7.2 7.2 -5.8 4.8 -4.0C2.9 -2.6 1.2 -1.3 0.3 0" stroke-width="1.02" /><path d="M0.3 -0.6C1.8 -1.8 3.2 -1.7 4.8 -0.9C6.6 0 8.2 0.2 9.3 -0.7L9.6 -2.6" stroke-width="1.12" /><circle cx="1.2" cy="-8.7" r="0.9" fill="currentColor" stroke="none"/></g><g transform="translate(312.70 22.40)"><path d="M-4.5 -14.5A11.45 11.45 0 0 1 -4.5 3.7A12.6 12.6 0 0 0 -4.5 -14.5Z" fill="currentColor" stroke-width="0.70"/></g></g>
<g fill="none" stroke="#000" color="#000" stroke-linecap="round" stroke-linejoin="round"><g transform="translate(379.20 23.30)"><path d="M0 -11.9H9.9" stroke-width="0.93" /><path d="M0 -11.9V-9.2M9.9 -11.9V-9.2" stroke-width="0.74" /><path d="M4.95 -11.9V0" stroke-width="1.40" stroke-linecap="butt"/><path d="M2.9 0H7.0" stroke-width="0.84" /></g><g transform="translate(390.50 23.30)"><path d="M1.9 -12.3V0" stroke-width="1.30" stroke-linecap="butt"/><path d="M0 -12.3H1.9M0 0H4.4M6.3 0H10.6" stroke-width="0.84" /><path d="M1.9 -6.0C3 -7.8 4.4 -8.8 5.8 -8.8C7.6 -8.8 8.3 -7.7 8.3 -6V0" stroke-width="1.16" /></g><g transform="translate(402.80 23.30)"><path d="M2.2 -8.8V0" stroke-width="1.30" stroke-linecap="butt"/><path d="M0.2 -8.8H2.2M0 0H4.7" stroke-width="0.84" /><circle cx="2.1" cy="-11.7" r="1.0" fill="currentColor" stroke="none"/></g><g transform="translate(409.80 23.30)"><path d="M7.3 -6.7V-9.2M0.7 -2.7V0.1" stroke-width="0.74" /><path d="M7.2 -7.5C6.6 -8.7 5.4 -9.2 4.1 -9.2C2.3 -9.2 0.9 -8.3 0.9 -6.9C0.9 -5.5 2.2 -5.0 4.1 -4.6C6.2 -4.1 7.5 -3.6 7.5 -2.3C7.5 -0.8 6.0 0.1 4.1 0.1C2.6 0.1 1.4 -0.5 0.8 -1.8" stroke-width="1.07" /></g><g transform="translate(428.30 23.30)"><path d="M0 -8.8H3.6M10.5 -8.8H13" stroke-width="0.79" /><path d="M1.6 -8.8L4.4 -0.3M6.5 -8.4L9.4 -0.3" stroke-width="1.30" /><path d="M4.4 -0.3L6.5 -8.4M9.4 -0.3L12 -8.8" stroke-width="0.84" /></g><g transform="translate(442.80 23.30)"><path d="M-0.05 -4.50A4.05 4.95 0 1 0 8.05 -4.50A4.05 4.95 0 1 0 -0.05 -4.50ZM1.15 -4.50A2.85 4.1 0 1 0 6.85 -4.50A2.85 4.1 0 1 0 1.15 -4.50Z" fill="currentColor" fill-rule="evenodd" stroke="currentColor" stroke-width="0.00"/></g><g transform="translate(453.00 23.30)"><path d="M1.9 -9V0" stroke-width="1.30" stroke-linecap="butt"/><path d="M0 -9H1.9M0 0H4.1" stroke-width="0.84" /><path d="M1.9 -5.8C2.8 -7.8 4.6 -9.1 6.6 -9.1" stroke-width="0.98" /><circle cx="7.3" cy="-8.2" r="0.95" fill="currentColor" stroke="none"/></g><g transform="translate(464.20 23.30)"><path d="M2.1 -12.3V0" stroke-width="1.30" stroke-linecap="butt"/><path d="M0 -12.3H2.1M0 0H4.7M6.3 -8.9H10.2M6.6 0H10.6" stroke-width="0.84" /><path d="M2.1 -3.6L8.7 -8.9" stroke-width="0.84" /><path d="M4.9 -5.9L8.8 0" stroke-width="1.30" /></g></g>
<g fill="none" stroke="#000" color="#000" stroke-linecap="round" stroke-linejoin="round"><g transform="translate(585.87 23.30)"><path d="M0 -11.9H9.9" stroke-width="0.93" /><path d="M0 -11.9V-9.2M9.9 -11.9V-9.2" stroke-width="0.74" /><path d="M4.95 -11.9V0" stroke-width="1.40" stroke-linecap="butt"/><path d="M2.9 0H7.0" stroke-width="0.84" /></g><g transform="translate(597.17 23.30)"><path d="M1.9 -12.3V0" stroke-width="1.30" stroke-linecap="butt"/><path d="M0 -12.3H1.9M0 0H4.4M6.3 0H10.6" stroke-width="0.84" /><path d="M1.9 -6.0C3 -7.8 4.4 -8.8 5.8 -8.8C7.6 -8.8 8.3 -7.7 8.3 -6V0" stroke-width="1.16" /></g><g transform="translate(609.47 23.30)"><path d="M2.2 -8.8V0" stroke-width="1.30" stroke-linecap="butt"/><path d="M0.2 -8.8H2.2M0 0H4.7" stroke-width="0.84" /><circle cx="2.1" cy="-11.7" r="1.0" fill="currentColor" stroke="none"/></g><g transform="translate(616.47 23.30)"><path d="M7.3 -6.7V-9.2M0.7 -2.7V0.1" stroke-width="0.74" /><path d="M7.2 -7.5C6.6 -8.7 5.4 -9.2 4.1 -9.2C2.3 -9.2 0.9 -8.3 0.9 -6.9C0.9 -5.5 2.2 -5.0 4.1 -4.6C6.2 -4.1 7.5 -3.6 7.5 -2.3C7.5 -0.8 6.0 0.1 4.1 0.1C2.6 0.1 1.4 -0.5 0.8 -1.8" stroke-width="1.07" /></g><g transform="translate(634.97 23.30)"><path d="M0 -8.8H3.6M10.5 -8.8H13" stroke-width="0.79" /><path d="M1.6 -8.8L4.4 -0.3M6.5 -8.4L9.4 -0.3" stroke-width="1.30" /><path d="M4.4 -0.3L6.5 -8.4M9.4 -0.3L12 -8.8" stroke-width="0.84" /></g><g transform="translate(649.47 23.30)"><path d="M-0.05 -4.50A4.05 4.95 0 1 0 8.05 -4.50A4.05 4.95 0 1 0 -0.05 -4.50ZM1.15 -4.50A2.85 4.1 0 1 0 6.85 -4.50A2.85 4.1 0 1 0 1.15 -4.50Z" fill="currentColor" fill-rule="evenodd" stroke="currentColor" stroke-width="0.00"/></g><g transform="translate(659.67 23.30)"><path d="M1.9 -9V0" stroke-width="1.30" stroke-linecap="butt"/><path d="M0 -9H1.9M0 0H4.1" stroke-width="0.84" /><path d="M1.9 -5.8C2.8 -7.8 4.6 -9.1 6.6 -9.1" stroke-width="0.98" /><circle cx="7.3" cy="-8.2" r="0.95" fill="currentColor" stroke="none"/></g><g transform="translate(670.87 23.30)"><path d="M2.1 -12.3V0" stroke-width="1.30" stroke-linecap="butt"/><path d="M0 -12.3H2.1M0 0H4.7M6.3 -8.9H10.2M6.6 0H10.6" stroke-width="0.84" /><path d="M2.1 -3.6L8.7 -8.9" stroke-width="0.84" /><path d="M4.9 -5.9L8.8 0" stroke-width="1.30" /></g></g>
<g fill="none" stroke="#000" stroke-linecap="round" stroke-linejoin="round">
<g transform="translate(56.00 71.50)"><path d="M0 -20.5V0" stroke-width="1.7" stroke-linecap="butt"/><path d="M0.4 -20.6C-1 -19 -2.6 -17.8 -4.6 -16.8" stroke-width="1.05" /><path d="M-4.4 -0.1H4.4" stroke-width="1.1" /></g><g transform="translate(69.40 71.50)"><circle cx="0" cy="-1.25" r="1.35" fill="#000" stroke="none"/></g><g transform="translate(76.00 71.50)"><path d="M2.4 -19.2L12.2 -20.1" stroke-width="1.7" /><path d="M2.4 -19.5L0.5 -11.1" stroke-width="1.05" /><path d="M0.5 -11.1C2.5 -13.4 5 -14.5 7.3 -14.5C11.6 -14.5 14.7 -11.5 14.7 -7.2C14.7 -3 11.5 0 7.4 0C4 0 1.2 -1.8 0.5 -4.6" stroke-width="1.3" /><circle cx="1.7" cy="-5.1" r="1.3" fill="#000" stroke="none"/></g>
<g transform="translate(84.30 268.70)"><path d="M0 -20.5V0" stroke-width="1.7" stroke-linecap="butt"/><path d="M0.4 -20.6C-1 -19 -2.6 -17.8 -4.6 -16.8" stroke-width="1.05" /><path d="M-4.4 -0.1H4.4" stroke-width="1.1" /></g>
<g transform="translate(47.75 465.80)"><path d="M0.05 -10.55A7.35 10.75 0 1 0 14.75 -10.55A7.35 10.75 0 1 0 0.05 -10.55ZM1.70 -10.55A5.7 9.65 0 1 0 13.10 -10.55A5.7 9.65 0 1 0 1.70 -10.55Z" fill="#000" fill-rule="evenodd" stroke="none"/></g><g transform="translate(69.40 465.80)"><circle cx="0" cy="-1.25" r="1.35" fill="#000" stroke="none"/></g><g transform="translate(76.00 465.80)"><path d="M2.4 -19.2L12.2 -20.1" stroke-width="1.7" /><path d="M2.4 -19.5L0.5 -11.1" stroke-width="1.05" /><path d="M0.5 -11.1C2.5 -13.4 5 -14.5 7.3 -14.5C11.6 -14.5 14.7 -11.5 14.7 -7.2C14.7 -3 11.5 0 7.4 0C4 0 1.2 -1.8 0.5 -4.6" stroke-width="1.3" /><circle cx="1.7" cy="-5.1" r="1.3" fill="#000" stroke="none"/></g>
<g transform="translate(177.60 650.60)"><path d="M0.05 -10.55A7.35 10.75 0 1 0 14.75 -10.55A7.35 10.75 0 1 0 0.05 -10.55ZM1.70 -10.55A5.7 9.65 0 1 0 13.10 -10.55A5.7 9.65 0 1 0 1.70 -10.55Z" fill="#000" fill-rule="evenodd" stroke="none"/></g><g transform="translate(199.40 650.60)"><circle cx="0" cy="-1.25" r="1.35" fill="#000" stroke="none"/></g><g transform="translate(206.90 650.60)"><path d="M11.6 -18.2C11 -19.8 9 -20.6 6.6 -20.6C3.4 -20.6 0.6 -15.5 0.6 -9.1C0.6 -3.5 3.2 0.1 7.3 0.1C11 0.1 13.7 -2.8 13.7 -6.9C13.7 -10.9 11 -13.8 7.3 -13.8C3.6 -13.8 0.9 -11 0.9 -7.4" stroke-width="1.35" /><circle cx="11.7" cy="-17.3" r="1.3" fill="#000" stroke="none"/></g>
<g transform="translate(276.00 650.60)"><path d="M0.05 -10.55A7.35 10.75 0 1 0 14.75 -10.55A7.35 10.75 0 1 0 0.05 -10.55ZM1.70 -10.55A5.7 9.65 0 1 0 13.10 -10.55A5.7 9.65 0 1 0 1.70 -10.55Z" fill="#000" fill-rule="evenodd" stroke="none"/></g><g transform="translate(297.90 650.60)"><circle cx="0" cy="-1.25" r="1.35" fill="#000" stroke="none"/></g><g transform="translate(305.30 650.60)"><path d="M0.1 -20.5V-14.6" stroke-width="1.05" /><path d="M0.1 -17.2C1.2 -19.6 3 -20.6 4.6 -20.6C6.6 -20.6 8.8 -18.4 11.2 -18.3C12.8 -18.3 13.6 -19.2 14.2 -20.5" stroke-width="1.15" /><path d="M1.4 -19.3C2.6 -20.2 3.6 -20.3 4.8 -19.9C6.4 -19.3 8 -18 10 -17.9" stroke-width="1.4" /><path d="M14.2 -20.5C13.2 -18 10.8 -14.5 9.4 -12" stroke-width="1.05" /><path d="M9.6 -12.4C7.4 -8 6.3 -4 6.2 -0.3" stroke-width="2.0" stroke-linecap="butt"/></g>
<g transform="translate(384.27 650.60)"><path d="M0.05 -10.55A7.35 10.75 0 1 0 14.75 -10.55A7.35 10.75 0 1 0 0.05 -10.55ZM1.70 -10.55A5.7 9.65 0 1 0 13.10 -10.55A5.7 9.65 0 1 0 1.70 -10.55Z" fill="#000" fill-rule="evenodd" stroke="none"/></g><g transform="translate(406.07 650.60)"><circle cx="0" cy="-1.25" r="1.35" fill="#000" stroke="none"/></g><g transform="translate(413.57 650.60)"><path d="M11.6 -18.2C11 -19.8 9 -20.6 6.6 -20.6C3.4 -20.6 0.6 -15.5 0.6 -9.1C0.6 -3.5 3.2 0.1 7.3 0.1C11 0.1 13.7 -2.8 13.7 -6.9C13.7 -10.9 11 -13.8 7.3 -13.8C3.6 -13.8 0.9 -11 0.9 -7.4" stroke-width="1.35" /><circle cx="11.7" cy="-17.3" r="1.3" fill="#000" stroke="none"/></g>
<g transform="translate(482.67 650.60)"><path d="M0.05 -10.55A7.35 10.75 0 1 0 14.75 -10.55A7.35 10.75 0 1 0 0.05 -10.55ZM1.70 -10.55A5.7 9.65 0 1 0 13.10 -10.55A5.7 9.65 0 1 0 1.70 -10.55Z" fill="#000" fill-rule="evenodd" stroke="none"/></g><g transform="translate(504.57 650.60)"><circle cx="0" cy="-1.25" r="1.35" fill="#000" stroke="none"/></g><g transform="translate(511.97 650.60)"><path d="M0.1 -20.5V-14.6" stroke-width="1.05" /><path d="M0.1 -17.2C1.2 -19.6 3 -20.6 4.6 -20.6C6.6 -20.6 8.8 -18.4 11.2 -18.3C12.8 -18.3 13.6 -19.2 14.2 -20.5" stroke-width="1.15" /><path d="M1.4 -19.3C2.6 -20.2 3.6 -20.3 4.8 -19.9C6.4 -19.3 8 -18 10 -17.9" stroke-width="1.4" /><path d="M14.2 -20.5C13.2 -18 10.8 -14.5 9.4 -12" stroke-width="1.05" /><path d="M9.6 -12.4C7.4 -8 6.3 -4 6.2 -0.3" stroke-width="2.0" stroke-linecap="butt"/></g>
<g transform="translate(590.94 650.60)"><path d="M0.05 -10.55A7.35 10.75 0 1 0 14.75 -10.55A7.35 10.75 0 1 0 0.05 -10.55ZM1.70 -10.55A5.7 9.65 0 1 0 13.10 -10.55A5.7 9.65 0 1 0 1.70 -10.55Z" fill="#000" fill-rule="evenodd" stroke="none"/></g><g transform="translate(612.74 650.60)"><circle cx="0" cy="-1.25" r="1.35" fill="#000" stroke="none"/></g><g transform="translate(620.24 650.60)"><path d="M11.6 -18.2C11 -19.8 9 -20.6 6.6 -20.6C3.4 -20.6 0.6 -15.5 0.6 -9.1C0.6 -3.5 3.2 0.1 7.3 0.1C11 0.1 13.7 -2.8 13.7 -6.9C13.7 -10.9 11 -13.8 7.3 -13.8C3.6 -13.8 0.9 -11 0.9 -7.4" stroke-width="1.35" /><circle cx="11.7" cy="-17.3" r="1.3" fill="#000" stroke="none"/></g>
<g transform="translate(689.34 650.60)"><path d="M0.05 -10.55A7.35 10.75 0 1 0 14.75 -10.55A7.35 10.75 0 1 0 0.05 -10.55ZM1.70 -10.55A5.7 9.65 0 1 0 13.10 -10.55A5.7 9.65 0 1 0 1.70 -10.55Z" fill="#000" fill-rule="evenodd" stroke="none"/></g><g transform="translate(711.24 650.60)"><circle cx="0" cy="-1.25" r="1.35" fill="#000" stroke="none"/></g><g transform="translate(718.64 650.60)"><path d="M0.1 -20.5V-14.6" stroke-width="1.05" /><path d="M0.1 -17.2C1.2 -19.6 3 -20.6 4.6 -20.6C6.6 -20.6 8.8 -18.4 11.2 -18.3C12.8 -18.3 13.6 -19.2 14.2 -20.5" stroke-width="1.15" /><path d="M1.4 -19.3C2.6 -20.2 3.6 -20.3 4.8 -19.9C6.4 -19.3 8 -18 10 -17.9" stroke-width="1.4" /><path d="M14.2 -20.5C13.2 -18 10.8 -14.5 9.4 -12" stroke-width="1.05" /><path d="M9.6 -12.4C7.4 -8 6.3 -4 6.2 -0.3" stroke-width="2.0" stroke-linecap="butt"/></g>
<g transform="translate(157.60 692.50)"><path d="M3.3 -21V0" stroke-width="1.0" /><path d="M0 -21.1H4M0 0H6.6" stroke-width="1.05" /><path d="M3.8 -21L10 -0.8" stroke-width="1.75" /><path d="M10 -0.6L16.5 -21" stroke-width="1.0" /><path d="M17 -21V0" stroke-width="1.85" stroke-linecap="butt"/><path d="M15.6 -21.1H20.6M13.4 0H20.6" stroke-width="1.05" /></g><g transform="translate(185.30 697.20)"><path d="M3.2 -2.3C2.6 -3.4 1.5 -3.9 0.2 -3.9C-2.1 -3.9 -3.8 -2.2 -3.8 0C-3.8 2.3 -2.1 3.9 0.2 3.9C1.9 3.9 3.2 3.1 3.9 1.6" stroke-width="1.1" /><path d="M-2.2 -3.0C-3.3 -2.2 -3.7 -1.1 -3.7 0C-3.7 1.2 -3.3 2.3 -2.2 3.0" stroke-width="1.9" stroke-linecap="butt"/><circle cx="2.9" cy="-2.1" r="1.15" fill="#000" stroke="none"/></g><g transform="translate(209.40 692.50)"><path d="M7.3 -24.4A19.8 19.8 0 0 0 7.3 6.3A21.6 21.6 0 0 1 7.3 -24.4Z" fill="#000" stroke="#000" stroke-width="0.9" stroke-linejoin="round"/></g><g transform="translate(221.40 692.50)"><path d="M3.3 -21V0" stroke-width="1.0" /><path d="M0 -21.1H4M0 0H6.6" stroke-width="1.05" /><path d="M3.8 -21L10 -0.8" stroke-width="1.75" /><path d="M10 -0.6L16.5 -21" stroke-width="1.0" /><path d="M17 -21V0" stroke-width="1.85" stroke-linecap="butt"/><path d="M15.6 -21.1H20.6M13.4 0H20.6" stroke-width="1.05" /></g><g transform="translate(251.40 695.30)"><circle cx="0" cy="0" r="6.0" stroke-width="1.25"/><circle cx="0" cy="0" r="1.25" fill="#000" stroke="none"/></g><g transform="translate(269.40 692.50)"><path d="M-7.3 -24.4A19.8 19.8 0 0 1 -7.3 6.3A21.6 21.6 0 0 0 -7.3 -24.4Z" fill="#000" stroke="#000" stroke-width="0.9" stroke-linejoin="round"/></g>
<g transform="translate(364.27 692.50)"><path d="M3.3 -21V0" stroke-width="1.0" /><path d="M0 -21.1H4M0 0H6.6" stroke-width="1.05" /><path d="M3.8 -21L10 -0.8" stroke-width="1.75" /><path d="M10 -0.6L16.5 -21" stroke-width="1.0" /><path d="M17 -21V0" stroke-width="1.85" stroke-linecap="butt"/><path d="M15.6 -21.1H20.6M13.4 0H20.6" stroke-width="1.05" /></g><g transform="translate(391.97 697.20)"><path d="M3.2 -2.3C2.6 -3.4 1.5 -3.9 0.2 -3.9C-2.1 -3.9 -3.8 -2.2 -3.8 0C-3.8 2.3 -2.1 3.9 0.2 3.9C1.9 3.9 3.2 3.1 3.9 1.6" stroke-width="1.1" /><path d="M-2.2 -3.0C-3.3 -2.2 -3.7 -1.1 -3.7 0C-3.7 1.2 -3.3 2.3 -2.2 3.0" stroke-width="1.9" stroke-linecap="butt"/><circle cx="2.9" cy="-2.1" r="1.15" fill="#000" stroke="none"/></g><g transform="translate(416.07 692.50)"><path d="M7.3 -24.4A19.8 19.8 0 0 0 7.3 6.3A21.6 21.6 0 0 1 7.3 -24.4Z" fill="#000" stroke="#000" stroke-width="0.9" stroke-linejoin="round"/></g><g transform="translate(428.07 692.50)"><path d="M3.3 -21V0" stroke-width="1.0" /><path d="M0 -21.1H4M0 0H6.6" stroke-width="1.05" /><path d="M3.8 -21L10 -0.8" stroke-width="1.75" /><path d="M10 -0.6L16.5 -21" stroke-width="1.0" /><path d="M17 -21V0" stroke-width="1.85" stroke-linecap="butt"/><path d="M15.6 -21.1H20.6M13.4 0H20.6" stroke-width="1.05" /></g><g transform="translate(458.07 695.30)"><circle cx="0" cy="0" r="6.0" stroke-width="1.25"/><circle cx="0" cy="0" r="1.25" fill="#000" stroke="none"/></g><g transform="translate(476.07 692.50)"><path d="M-7.3 -24.4A19.8 19.8 0 0 1 -7.3 6.3A21.6 21.6 0 0 0 -7.3 -24.4Z" fill="#000" stroke="#000" stroke-width="0.9" stroke-linejoin="round"/></g>
<g transform="translate(570.94 692.50)"><path d="M3.3 -21V0" stroke-width="1.0" /><path d="M0 -21.1H4M0 0H6.6" stroke-width="1.05" /><path d="M3.8 -21L10 -0.8" stroke-width="1.75" /><path d="M10 -0.6L16.5 -21" stroke-width="1.0" /><path d="M17 -21V0" stroke-width="1.85" stroke-linecap="butt"/><path d="M15.6 -21.1H20.6M13.4 0H20.6" stroke-width="1.05" /></g><g transform="translate(598.64 697.20)"><path d="M3.2 -2.3C2.6 -3.4 1.5 -3.9 0.2 -3.9C-2.1 -3.9 -3.8 -2.2 -3.8 0C-3.8 2.3 -2.1 3.9 0.2 3.9C1.9 3.9 3.2 3.1 3.9 1.6" stroke-width="1.1" /><path d="M-2.2 -3.0C-3.3 -2.2 -3.7 -1.1 -3.7 0C-3.7 1.2 -3.3 2.3 -2.2 3.0" stroke-width="1.9" stroke-linecap="butt"/><circle cx="2.9" cy="-2.1" r="1.15" fill="#000" stroke="none"/></g><g transform="translate(622.74 692.50)"><path d="M7.3 -24.4A19.8 19.8 0 0 0 7.3 6.3A21.6 21.6 0 0 1 7.3 -24.4Z" fill="#000" stroke="#000" stroke-width="0.9" stroke-linejoin="round"/></g><g transform="translate(634.74 692.50)"><path d="M3.3 -21V0" stroke-width="1.0" /><path d="M0 -21.1H4M0 0H6.6" stroke-width="1.05" /><path d="M3.8 -21L10 -0.8" stroke-width="1.75" /><path d="M10 -0.6L16.5 -21" stroke-width="1.0" /><path d="M17 -21V0" stroke-width="1.85" stroke-linecap="butt"/><path d="M15.6 -21.1H20.6M13.4 0H20.6" stroke-width="1.05" /></g><g transform="translate(664.74 695.30)"><circle cx="0" cy="0" r="6.0" stroke-width="1.25"/><circle cx="0" cy="0" r="1.25" fill="#000" stroke="none"/></g><g transform="translate(682.74 692.50)"><path d="M-7.3 -24.4A19.8 19.8 0 0 1 -7.3 6.3A21.6 21.6 0 0 0 -7.3 -24.4Z" fill="#000" stroke="#000" stroke-width="0.9" stroke-linejoin="round"/></g>
<g transform="translate(28.7 0) rotate(-90)">
<g transform="translate(-411.30 0.00)"><path d="M3.3 -21V0" stroke-width="1.75" stroke-linecap="butt"/><path d="M0 -21.1H6.6" stroke-width="1.05" /><path d="M0 0H13.5L13.3 -6.6" stroke-width="1.05" /></g><g transform="translate(-362.10 0.00)"><path d="M7.3 -24.4A19.8 19.8 0 0 0 7.3 6.3A21.6 21.6 0 0 1 7.3 -24.4Z" fill="#000" stroke="#000" stroke-width="0.9" stroke-linejoin="round"/></g><g transform="translate(-342.30 0.00)"><path d="M0 -20.5V0" stroke-width="1.7" stroke-linecap="butt"/><path d="M0.4 -20.6C-1 -19 -2.6 -17.8 -4.6 -16.8" stroke-width="1.05" /><path d="M-4.4 -0.1H4.4" stroke-width="1.1" /></g><g transform="translate(-330.85 0.00)"><path d="M0.05 -10.55A7.35 10.75 0 1 0 14.75 -10.55A7.35 10.75 0 1 0 0.05 -10.55ZM1.70 -10.55A5.7 9.65 0 1 0 13.10 -10.55A5.7 9.65 0 1 0 1.70 -10.55Z" fill="#000" fill-rule="evenodd" stroke="none"/></g><g transform="translate(-313.60 -8.80)"><path d="M6.4 -13.1V0" stroke-width="1.5" stroke-linecap="butt"/><path d="M6.4 -13.1L0 -4.3H9.3" stroke-width="1.0" /><path d="M4.2 0H8.5" stroke-width="1.0" /></g><g transform="translate(-284.40 0.00)"><path d="M3.3 -21V0" stroke-width="1.75" stroke-linecap="butt"/><path d="M0 -21.1H6.6" stroke-width="1.05" /><path d="M0 0H13.5L13.3 -6.6" stroke-width="1.05" /></g><g transform="translate(-262.00 2.40)"><circle cx="0" cy="0" r="5.8" stroke-width="1.25"/><circle cx="0" cy="0" r="1.25" fill="#000" stroke="none"/></g><g transform="translate(-244.40 0.00)"><path d="M-7.3 -24.4A19.8 19.8 0 0 1 -7.3 6.3A21.6 21.6 0 0 0 -7.3 -24.4Z" fill="#000" stroke="#000" stroke-width="0.9" stroke-linejoin="round"/></g>
</g>
</g>
<path d="M332.9 64.5L341.9 73.5M332.9 73.5L341.9 64.5" stroke="#ff00ff" stroke-width="1.08" fill="none"/>
<g fill="none" stroke="#ff00ff" color="#ff00ff" stroke-linecap="round" stroke-linejoin="round"><g transform="translate(349.10 75.90) scale(1.07 1.125)"><path d="M1.9 -11.9V0" stroke-width="0.90" /><path d="M0 -11.9H2.4M0 0H3.9M9.2 -11.9H12.1M7.9 0H12.1" stroke-width="0.90" /><path d="M2.2 -11.9L5.9 -0.5" stroke-width="1.46" /><path d="M5.9 -0.4L9.7 -11.9" stroke-width="0.90" /><path d="M10 -11.9V0" stroke-width="1.57" stroke-linecap="butt"/></g><g transform="translate(366.10 75.90) scale(1.07 1.125)"><path d="M0 -6.4H10.6M0 -3.65H10.6" stroke-width="1.06" stroke-linecap="butt"/></g><g transform="translate(381.90 75.90) scale(1.07 1.125)"><path d="M0.9 -9.0C0.9 -10.9 2.6 -12.1 4.7 -12.1C7.1 -12.1 8.6 -10.9 8.6 -9.0C8.6 -7.2 7.2 -5.8 4.8 -4.0C2.9 -2.6 1.2 -1.3 0.3 0" stroke-width="1.23" /><path d="M0.3 -0.6C1.8 -1.8 3.2 -1.7 4.8 -0.9C6.6 0 8.2 0.2 9.3 -0.7L9.6 -2.6" stroke-width="1.34" /><circle cx="1.2" cy="-8.7" r="0.9" fill="currentColor" stroke="none"/></g><g transform="translate(397.00 75.90) scale(1.07 1.125)"><circle cx="0" cy="-0.85" r="1.0" fill="currentColor" stroke="none"/></g><g transform="translate(401.00 75.90) scale(1.07 1.125)"><path d="M0.00 -5.95A4.5 6.45 0 1 0 9.00 -5.95A4.5 6.45 0 1 0 0.00 -5.95ZM1.10 -5.95A3.4 5.6 0 1 0 7.90 -5.95A3.4 5.6 0 1 0 1.10 -5.95Z" fill="currentColor" fill-rule="evenodd" stroke="currentColor" stroke-width="0.25"/></g><g transform="translate(424.00 75.90) scale(1.07 1.125)"><path d="M0.3 -11.9H9.0M0.2 0H9.2" stroke-width="1.01" /><path d="M0.3 -11.9V-9.4M9.2 0V-2.8" stroke-width="0.90" /><path d="M9.0 -11.9L0.2 0" stroke-width="1.57" /></g><g transform="translate(438.20 75.90) scale(1.07 1.125)"><path d="M0 -6.4H10.6M0 -3.65H10.6" stroke-width="1.06" stroke-linecap="butt"/></g><g transform="translate(454.00 75.90) scale(1.07 1.125)"><path d="M0.00 -5.95A4.5 6.45 0 1 0 9.00 -5.95A4.5 6.45 0 1 0 0.00 -5.95ZM1.10 -5.95A3.4 5.6 0 1 0 7.90 -5.95A3.4 5.6 0 1 0 1.10 -5.95Z" fill="currentColor" fill-rule="evenodd" stroke="currentColor" stroke-width="0.25"/></g><g transform="translate(468.90 75.90) scale(1.07 1.125)"><circle cx="0" cy="-0.85" r="1.0" fill="currentColor" stroke="none"/></g><g transform="translate(473.60 75.90) scale(1.07 1.125)"><path d="M0.00 -5.95A4.5 6.45 0 1 0 9.00 -5.95A4.5 6.45 0 1 0 0.00 -5.95ZM1.10 -5.95A3.4 5.6 0 1 0 7.90 -5.95A3.4 5.6 0 1 0 1.10 -5.95Z" fill="currentColor" fill-rule="evenodd" stroke="currentColor" stroke-width="0.25"/></g><g transform="translate(485.65 75.90) scale(1.07 1.125)"><path d="M0.00 -5.95A4.5 6.45 0 1 0 9.00 -5.95A4.5 6.45 0 1 0 0.00 -5.95ZM1.10 -5.95A3.4 5.6 0 1 0 7.90 -5.95A3.4 5.6 0 1 0 1.10 -5.95Z" fill="currentColor" fill-rule="evenodd" stroke="currentColor" stroke-width="0.25"/></g><g transform="translate(497.70 75.90) scale(1.07 1.125)"><path d="M0.00 -5.95A4.5 6.45 0 1 0 9.00 -5.95A4.5 6.45 0 1 0 0.00 -5.95ZM1.10 -5.95A3.4 5.6 0 1 0 7.90 -5.95A3.4 5.6 0 1 0 1.10 -5.95Z" fill="currentColor" fill-rule="evenodd" stroke="currentColor" stroke-width="0.25"/></g><g transform="translate(516.95 75.90) scale(1.07 1.125)"><path d="M0 -11.8V0" stroke-width="1.46" stroke-linecap="butt"/><path d="M0.2 -11.9C-0.6 -10.9 -1.6 -10.2 -2.9 -9.6" stroke-width="0.95" /><path d="M-2.8 0H2.8" stroke-width="0.95" /></g></g>
<circle cx="337.4" cy="92.6" r="5.6" stroke="#ff0000" stroke-width="1.1" fill="none"/>
<g fill="none" stroke="#ff0000" color="#ff0000" stroke-linecap="round" stroke-linejoin="round"><g transform="translate(349.10 99.70) scale(1.07 1.125)"><path d="M1.9 -11.9V0" stroke-width="0.90" /><path d="M0 -11.9H2.4M0 0H3.9M9.2 -11.9H12.1M7.9 0H12.1" stroke-width="0.90" /><path d="M2.2 -11.9L5.9 -0.5" stroke-width="1.46" /><path d="M5.9 -0.4L9.7 -11.9" stroke-width="0.90" /><path d="M10 -11.9V0" stroke-width="1.57" stroke-linecap="butt"/></g><g transform="translate(366.10 99.70) scale(1.07 1.125)"><path d="M0 -6.4H10.6M0 -3.65H10.6" stroke-width="1.06" stroke-linecap="butt"/></g><g transform="translate(381.90 99.70) scale(1.07 1.125)"><path d="M0.9 -9.0C0.9 -10.9 2.6 -12.1 4.7 -12.1C7.1 -12.1 8.6 -10.9 8.6 -9.0C8.6 -7.2 7.2 -5.8 4.8 -4.0C2.9 -2.6 1.2 -1.3 0.3 0" stroke-width="1.23" /><path d="M0.3 -0.6C1.8 -1.8 3.2 -1.7 4.8 -0.9C6.6 0 8.2 0.2 9.3 -0.7L9.6 -2.6" stroke-width="1.34" /><circle cx="1.2" cy="-8.7" r="0.9" fill="currentColor" stroke="none"/></g><g transform="translate(397.00 99.70) scale(1.07 1.125)"><circle cx="0" cy="-0.85" r="1.0" fill="currentColor" stroke="none"/></g><g transform="translate(400.70 99.70) scale(1.07 1.125)"><path d="M0.9 -9.0C0.9 -10.9 2.6 -12.1 4.7 -12.1C7.1 -12.1 8.6 -10.9 8.6 -9.0C8.6 -7.2 7.2 -5.8 4.8 -4.0C2.9 -2.6 1.2 -1.3 0.3 0" stroke-width="1.23" /><path d="M0.3 -0.6C1.8 -1.8 3.2 -1.7 4.8 -0.9C6.6 0 8.2 0.2 9.3 -0.7L9.6 -2.6" stroke-width="1.34" /><circle cx="1.2" cy="-8.7" r="0.9" fill="currentColor" stroke="none"/></g><g transform="translate(413.20 99.70) scale(1.07 1.125)"><g transform="scale(1.1 1)"><path d="M1.5 -11.4L7.5 -11.9" stroke-width="1.34" /><path d="M1.5 -11.5L0.3 -6.6" stroke-width="0.95" /><path d="M0.3 -6.6C1.5 -8 3 -8.6 4.5 -8.6C7.1 -8.6 9 -6.8 9 -4.3C9 -1.8 7 0.05 4.5 0.05C2.4 0.05 0.8 -1 0.3 -2.7" stroke-width="1.23" /><circle cx="1.15" cy="-3.1" r="0.9" fill="currentColor" stroke="none"/></g></g><g transform="translate(436.70 99.70) scale(1.07 1.125)"><path d="M0.3 -11.9H9.0M0.2 0H9.2" stroke-width="1.01" /><path d="M0.3 -11.9V-9.4M9.2 0V-2.8" stroke-width="0.90" /><path d="M9.0 -11.9L0.2 0" stroke-width="1.57" /></g><g transform="translate(450.90 99.70) scale(1.07 1.125)"><path d="M0 -6.4H10.6M0 -3.65H10.6" stroke-width="1.06" stroke-linecap="butt"/></g><g transform="translate(466.70 99.70) scale(1.07 1.125)"><path d="M0.00 -5.95A4.5 6.45 0 1 0 9.00 -5.95A4.5 6.45 0 1 0 0.00 -5.95ZM1.10 -5.95A3.4 5.6 0 1 0 7.90 -5.95A3.4 5.6 0 1 0 1.10 -5.95Z" fill="currentColor" fill-rule="evenodd" stroke="currentColor" stroke-width="0.25"/></g><g transform="translate(481.60 99.70) scale(1.07 1.125)"><circle cx="0" cy="-0.85" r="1.0" fill="currentColor" stroke="none"/></g><g transform="translate(486.30 99.70) scale(1.07 1.125)"><path d="M0.00 -5.95A4.5 6.45 0 1 0 9.00 -5.95A4.5 6.45 0 1 0 0.00 -5.95ZM1.10 -5.95A3.4 5.6 0 1 0 7.90 -5.95A3.4 5.6 0 1 0 1.10 -5.95Z" fill="currentColor" fill-rule="evenodd" stroke="currentColor" stroke-width="0.25"/></g><g transform="translate(498.35 99.70) scale(1.07 1.125)"><path d="M0.00 -5.95A4.5 6.45 0 1 0 9.00 -5.95A4.5 6.45 0 1 0 0.00 -5.95ZM1.10 -5.95A3.4 5.6 0 1 0 7.90 -5.95A3.4 5.6 0 1 0 1.10 -5.95Z" fill="currentColor" fill-rule="evenodd" stroke="currentColor" stroke-width="0.25"/></g><g transform="translate(511.20 99.70) scale(1.07 1.125)"><path d="M6.4 -11.9V0" stroke-width="1.46" stroke-linecap="butt"/><path d="M6.4 -11.9L0 -3.9H9.4" stroke-width="0.95" /><path d="M4.2 0H8.6" stroke-width="0.95" /></g></g>
<path d="M337.4 111.3L342.8 120.6L332.0 120.6Z" fill="#0000ff"/>
<g fill="none" stroke="#0000ff" color="#0000ff" stroke-linecap="round" stroke-linejoin="round"><g transform="translate(349.10 123.50) scale(1.07 1.125)"><path d="M1.9 -11.9V0" stroke-width="0.90" /><path d="M0 -11.9H2.4M0 0H3.9M9.2 -11.9H12.1M7.9 0H12.1" stroke-width="0.90" /><path d="M2.2 -11.9L5.9 -0.5" stroke-width="1.46" /><path d="M5.9 -0.4L9.7 -11.9" stroke-width="0.90" /><path d="M10 -11.9V0" stroke-width="1.57" stroke-linecap="butt"/></g><g transform="translate(366.10 123.50) scale(1.07 1.125)"><path d="M0 -6.4H10.6M0 -3.65H10.6" stroke-width="1.06" stroke-linecap="butt"/></g><g transform="translate(381.90 123.50) scale(1.07 1.125)"><path d="M0.9 -9.0C0.9 -10.9 2.6 -12.1 4.7 -12.1C7.1 -12.1 8.6 -10.9 8.6 -9.0C8.6 -7.2 7.2 -5.8 4.8 -4.0C2.9 -2.6 1.2 -1.3 0.3 0" stroke-width="1.23" /><path d="M0.3 -0.6C1.8 -1.8 3.2 -1.7 4.8 -0.9C6.6 0 8.2 0.2 9.3 -0.7L9.6 -2.6" stroke-width="1.34" /><circle cx="1.2" cy="-8.7" r="0.9" fill="currentColor" stroke="none"/></g><g transform="translate(397.00 123.50) scale(1.07 1.125)"><circle cx="0" cy="-0.85" r="1.0" fill="currentColor" stroke="none"/></g><g transform="translate(401.30 123.50) scale(1.07 1.125)"><g transform="scale(1.1 1)"><path d="M1.5 -11.4L7.5 -11.9" stroke-width="1.34" /><path d="M1.5 -11.5L0.3 -6.6" stroke-width="0.95" /><path d="M0.3 -6.6C1.5 -8 3 -8.6 4.5 -8.6C7.1 -8.6 9 -6.8 9 -4.3C9 -1.8 7 0.05 4.5 0.05C2.4 0.05 0.8 -1 0.3 -2.7" stroke-width="1.23" /><circle cx="1.15" cy="-3.1" r="0.9" fill="currentColor" stroke="none"/></g></g><g transform="translate(424.00 123.50) scale(1.07 1.125)"><path d="M0.3 -11.9H9.0M0.2 0H9.2" stroke-width="1.01" /><path d="M0.3 -11.9V-9.4M9.2 0V-2.8" stroke-width="0.90" /><path d="M9.0 -11.9L0.2 0" stroke-width="1.57" /></g><g transform="translate(438.20 123.50) scale(1.07 1.125)"><path d="M0 -6.4H10.6M0 -3.65H10.6" stroke-width="1.06" stroke-linecap="butt"/></g><g transform="translate(454.00 123.50) scale(1.07 1.125)"><path d="M0.00 -5.95A4.5 6.45 0 1 0 9.00 -5.95A4.5 6.45 0 1 0 0.00 -5.95ZM1.10 -5.95A3.4 5.6 0 1 0 7.90 -5.95A3.4 5.6 0 1 0 1.10 -5.95Z" fill="currentColor" fill-rule="evenodd" stroke="currentColor" stroke-width="0.25"/></g><g transform="translate(468.90 123.50) scale(1.07 1.125)"><circle cx="0" cy="-0.85" r="1.0" fill="currentColor" stroke="none"/></g><g transform="translate(473.60 123.50) scale(1.07 1.125)"><path d="M0.00 -5.95A4.5 6.45 0 1 0 9.00 -5.95A4.5 6.45 0 1 0 0.00 -5.95ZM1.10 -5.95A3.4 5.6 0 1 0 7.90 -5.95A3.4 5.6 0 1 0 1.10 -5.95Z" fill="currentColor" fill-rule="evenodd" stroke="currentColor" stroke-width="0.25"/></g><g transform="translate(485.65 123.50) scale(1.07 1.125)"><path d="M0.00 -5.95A4.5 6.45 0 1 0 9.00 -5.95A4.5 6.45 0 1 0 0.00 -5.95ZM1.10 -5.95A3.4 5.6 0 1 0 7.90 -5.95A3.4 5.6 0 1 0 1.10 -5.95Z" fill="currentColor" fill-rule="evenodd" stroke="currentColor" stroke-width="0.25"/></g><g transform="translate(497.70 123.50) scale(1.07 1.125)"><path d="M0.95 -9.05A3.55 3.5 0 1 0 8.05 -9.05A3.55 3.5 0 1 0 0.95 -9.05ZM1.95 -9.05A2.55 2.6 0 1 0 7.05 -9.05A2.55 2.6 0 1 0 1.95 -9.05Z" fill="currentColor" fill-rule="evenodd" stroke="currentColor" stroke-width="0.25"/><path d="M0.10 -3.00A4.4 3.55 0 1 0 8.90 -3.00A4.4 3.55 0 1 0 0.10 -3.00ZM1.20 -3.00A3.3 2.65 0 1 0 7.80 -3.00A3.3 2.65 0 1 0 1.20 -3.00Z" fill="currentColor" fill-rule="evenodd" stroke="currentColor" stroke-width="0.25"/></g></g>
<rect x="333.0" y="135.7" width="8.8" height="8.8" stroke="#12a012" stroke-width="1.02" fill="none"/>
<g fill="none" stroke="#12a012" color="#12a012" stroke-linecap="round" stroke-linejoin="round"><g transform="translate(349.10 147.40) scale(1.07 1.125)"><path d="M1.9 -11.9V0" stroke-width="0.90" /><path d="M0 -11.9H2.4M0 0H3.9M9.2 -11.9H12.1M7.9 0H12.1" stroke-width="0.90" /><path d="M2.2 -11.9L5.9 -0.5" stroke-width="1.46" /><path d="M5.9 -0.4L9.7 -11.9" stroke-width="0.90" /><path d="M10 -11.9V0" stroke-width="1.57" stroke-linecap="butt"/></g><g transform="translate(366.10 147.40) scale(1.07 1.125)"><path d="M0 -6.4H10.6M0 -3.65H10.6" stroke-width="1.06" stroke-linecap="butt"/></g><g transform="translate(381.90 147.40) scale(1.07 1.125)"><path d="M1.0 -9.4C1.2 -11.2 2.6 -12.1 4.4 -12.1C6.4 -12.1 7.8 -11 7.8 -9.2C7.8 -7.6 6.4 -6.5 4.0 -6.4C6.8 -6.3 8.4 -5.2 8.4 -3.3C8.4 -1.2 6.6 0.1 4.3 0.1C2.3 0.1 0.8 -0.9 0.5 -2.6" stroke-width="1.23" /><circle cx="1.25" cy="-9.0" r="0.9" fill="currentColor" stroke="none"/><circle cx="0.9" cy="-2.9" r="0.9" fill="currentColor" stroke="none"/></g><g transform="translate(397.00 147.40) scale(1.07 1.125)"><circle cx="0" cy="-0.85" r="1.0" fill="currentColor" stroke="none"/></g><g transform="translate(401.00 147.40) scale(1.07 1.125)"><path d="M0.00 -5.95A4.5 6.45 0 1 0 9.00 -5.95A4.5 6.45 0 1 0 0.00 -5.95ZM1.10 -5.95A3.4 5.6 0 1 0 7.90 -5.95A3.4 5.6 0 1 0 1.10 -5.95Z" fill="currentColor" fill-rule="evenodd" stroke="currentColor" stroke-width="0.25"/></g><g transform="translate(424.00 147.40) scale(1.07 1.125)"><path d="M0.3 -11.9H9.0M0.2 0H9.2" stroke-width="1.01" /><path d="M0.3 -11.9V-9.4M9.2 0V-2.8" stroke-width="0.90" /><path d="M9.0 -11.9L0.2 0" stroke-width="1.57" /></g><g transform="translate(438.20 147.40) scale(1.07 1.125)"><path d="M0 -6.4H10.6M0 -3.65H10.6" stroke-width="1.06" stroke-linecap="butt"/></g><g transform="translate(454.00 147.40) scale(1.07 1.125)"><path d="M0.00 -5.95A4.5 6.45 0 1 0 9.00 -5.95A4.5 6.45 0 1 0 0.00 -5.95ZM1.10 -5.95A3.4 5.6 0 1 0 7.90 -5.95A3.4 5.6 0 1 0 1.10 -5.95Z" fill="currentColor" fill-rule="evenodd" stroke="currentColor" stroke-width="0.25"/></g><g transform="translate(468.90 147.40) scale(1.07 1.125)"><circle cx="0" cy="-0.85" r="1.0" fill="currentColor" stroke="none"/></g><g transform="translate(473.60 147.40) scale(1.07 1.125)"><path d="M0.00 -5.95A4.5 6.45 0 1 0 9.00 -5.95A4.5 6.45 0 1 0 0.00 -5.95ZM1.10 -5.95A3.4 5.6 0 1 0 7.90 -5.95A3.4 5.6 0 1 0 1.10 -5.95Z" fill="currentColor" fill-rule="evenodd" stroke="currentColor" stroke-width="0.25"/></g><g transform="translate(485.65 147.40) scale(1.07 1.125)"><path d="M0.9 -9.0C0.9 -10.9 2.6 -12.1 4.7 -12.1C7.1 -12.1 8.6 -10.9 8.6 -9.0C8.6 -7.2 7.2 -5.8 4.8 -4.0C2.9 -2.6 1.2 -1.3 0.3 0" stroke-width="1.23" /><path d="M0.3 -0.6C1.8 -1.8 3.2 -1.7 4.8 -0.9C6.6 0 8.2 0.2 9.3 -0.7L9.6 -2.6" stroke-width="1.34" /><circle cx="1.2" cy="-8.7" r="0.9" fill="currentColor" stroke="none"/></g></g>
</svg></body></html>
